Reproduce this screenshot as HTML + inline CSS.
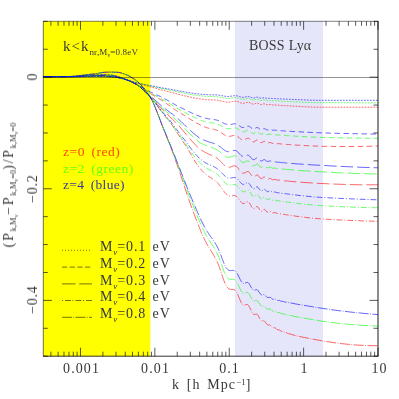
<!DOCTYPE html><html><head><meta charset="utf-8"><title>plot</title><style>
html,body{margin:0;padding:0;background:#fff;}
body{width:399px;height:399px;position:relative;overflow:hidden;font-family:"Liberation Serif",serif;color:#383838;}
.t{position:absolute;white-space:nowrap;line-height:1;will-change:transform;}
.xt{font-size:14px;transform:translateX(-50%);top:362px;letter-spacing:1.1px;text-indent:1.1px;}
.yt{font-size:14px;transform:translate(-50%,-50%) rotate(-90deg);left:32.8px;letter-spacing:0.8px;text-indent:0.8px;}
.leg{font-size:14px;left:100px;letter-spacing:0.85px;}
.leg sub,.yl sub,.kk sub{font-size:9px;vertical-align:baseline;position:relative;top:3px;letter-spacing:0;}
.kk sub{top:4px;letter-spacing:0.15px}
.yl sub{font-size:8.5px;}
.leg sub{top:4px;font-style:italic;}
.z{font-size:13.5px;left:62.5px;word-spacing:2.5px;}
</style></head><body>
<svg width="399" height="399" viewBox="0 0 399 399" style="position:absolute;left:0;top:0">
<defs><clipPath id="cp"><rect x="43.3" y="21.3" width="334.7" height="334.9"/></clipPath></defs>
<rect x="0" y="0" width="399" height="399" fill="#fff"/>
<rect x="43.3" y="21.3" width="107.0" height="334.9" fill="#ffff00"/>
<rect x="235" y="21.3" width="88" height="334.9" fill="#e6e6fa"/>
<g fill="none" stroke-width="0.6" clip-path="url(#cp)">
<path d="M43.3 76.7 L44.8 76.7 L46.3 76.7 L47.8 76.7 L49.3 76.7 L50.8 76.7 L52.3 76.7 L53.8 76.7 L55.3 76.7 L56.8 76.7 L58.3 76.7 L59.8 76.7 L61.3 76.7 L62.8 76.7 L64.3 76.7 L65.8 76.7 L67.3 76.7 L68.8 76.7 L70.3 76.7 L71.8 76.7 L73.3 76.7 L74.8 76.7 L76.3 76.7 L77.8 76.7 L79.3 76.7 L80.8 76.6 L82.3 76.6 L83.8 76.6 L85.3 76.6 L86.8 76.5 L88.3 76.5 L89.8 76.5 L91.3 76.5 L92.8 76.5 L94.3 76.5 L95.8 76.4 L97.3 76.4 L98.8 76.4 L100.3 76.5 L101.8 76.5 L103.3 76.5 L104.8 76.5 L106.3 76.6 L107.8 76.6 L109.3 76.8 L110.8 76.9 L112.3 77.0 L113.8 77.1 L115.3 77.3 L116.8 77.5 L118.3 77.7 L119.8 78.0 L121.3 78.3 L122.8 78.7 L124.3 79.0 L125.8 79.5 L127.3 79.9 L128.8 80.4 L130.3 80.9 L131.8 81.4 L133.3 81.9 L134.8 82.4 L136.3 82.9 L137.8 83.3 L139.3 83.7 L140.8 84.2 L142.3 84.6 L143.8 85.1 L145.3 85.5 L146.8 85.9 L148.3 86.3 L149.8 86.7 L151.3 87.1 L152.8 87.5 L154.3 87.9 L155.8 88.3 L157.3 88.8 L158.8 89.2 L160.3 89.6 L161.8 90.0 L163.3 90.4 L164.8 90.7 L166.3 91.1 L167.8 91.5 L169.3 91.9 L170.8 92.3 L172.3 92.7 L173.8 93.1 L175.3 93.5 L176.8 93.9 L178.3 94.3 L179.8 94.6 L181.3 95.0 L182.8 95.4 L184.3 95.8 L185.8 96.1 L187.3 96.5 L188.8 96.8 L190.3 97.1 L191.8 97.5 L193.3 97.8 L194.8 98.0 L196.3 98.3 L197.8 98.5 L199.3 98.8 L200.0 98.9 L200.5 98.9 L201.0 99.0 L201.5 99.1 L202.0 99.1 L202.5 99.2 L203.0 99.2 L203.5 99.3 L204.0 99.4 L204.5 99.4 L205.0 99.5 L205.5 99.5 L206.0 99.6 L206.5 99.6 L207.0 99.6 L207.5 99.7 L208.0 99.7 L208.5 99.7 L209.0 99.8 L209.5 99.8 L210.0 99.8 L210.5 99.8 L211.0 99.8 L211.5 99.8 L212.0 99.9 L212.5 99.9 L213.0 99.9 L213.5 99.9 L214.0 99.9 L214.5 100.0 L215.0 100.0 L215.5 100.0 L216.0 100.1 L216.5 100.1 L217.0 100.2 L217.5 100.2 L218.0 100.3 L218.5 100.4 L219.0 100.5 L219.5 100.6 L220.0 100.7 L220.5 100.8 L221.0 100.9 L221.5 101.0 L222.0 101.1 L222.5 101.3 L223.0 101.4 L223.5 101.5 L224.0 101.7 L224.5 101.8 L225.0 101.9 L225.5 102.0 L226.0 102.0 L226.5 102.1 L227.0 102.1 L227.5 102.2 L228.0 102.2 L228.5 102.1 L229.0 102.1 L229.5 102.1 L230.0 102.0 L230.5 101.9 L231.0 101.8 L231.5 101.7 L232.0 101.6 L232.5 101.5 L233.0 101.4 L233.5 101.3 L234.0 101.3 L234.5 101.2 L235.0 101.2 L235.5 101.2 L236.0 101.3 L236.5 101.3 L237.0 101.4 L237.5 101.6 L238.0 101.8 L238.5 101.9 L239.0 102.2 L239.5 102.4 L240.0 102.6 L240.5 102.8 L241.0 103.0 L241.5 103.1 L242.0 103.2 L242.5 103.3 L243.0 103.3 L243.5 103.3 L244.0 103.2 L244.5 103.1 L245.0 103.0 L245.5 102.8 L246.0 102.7 L246.5 102.5 L247.0 102.4 L247.5 102.3 L248.0 102.3 L248.5 102.3 L249.0 102.4 L249.5 102.6 L250.0 102.8 L250.5 103.0 L251.0 103.3 L251.5 103.6 L252.0 103.8 L252.5 104.0 L253.0 104.1 L253.5 104.1 L254.0 104.1 L254.5 103.9 L255.0 103.7 L255.5 103.5 L256.0 103.3 L256.5 103.2 L257.0 103.1 L257.5 103.1 L258.0 103.3 L258.5 103.5 L259.0 103.7 L259.5 104.0 L260.0 104.2 L260.5 104.4 L261.0 104.5 L261.5 104.5 L262.0 104.4 L262.5 104.3 L263.0 104.1 L263.5 103.9 L264.0 103.8 L264.5 103.9 L265.0 104.0 L265.5 104.1 L266.0 104.4 L266.5 104.6 L267.0 104.7 L267.5 104.8 L268.0 104.7 L268.5 104.7 L269.0 104.6 L269.5 104.5 L270.0 104.4 L270.5 104.5 L271.0 104.6 L271.5 104.7 L272.0 104.9 L272.5 105.0 L273.0 105.0 L273.5 105.0 L274.0 104.9 L274.5 104.9 L275.0 104.9 L275.5 104.9 L276.0 105.0 L276.5 105.1 L277.0 105.2 L277.5 105.2 L278.0 105.2 L278.5 105.2 L279.0 105.2 L279.5 105.2 L280.0 105.3 L280.5 105.4 L281.0 105.4 L281.5 105.5 L282.0 105.5 L282.5 105.5 L283.0 105.5 L283.5 105.5 L284.0 105.6 L284.5 105.6 L285.0 105.6 L285.5 105.7 L286.0 105.7 L286.5 105.7 L287.0 105.7 L287.5 105.8 L288.0 105.8 L288.5 105.8 L289.0 105.9 L289.5 105.9 L290.0 105.9 L293.0 106.1 L296.0 106.3 L299.0 106.4 L302.0 106.6 L305.0 106.8 L308.0 106.9 L311.0 107.0 L314.0 107.1 L317.0 107.2 L320.0 107.2 L323.0 107.2 L326.0 107.2 L329.0 107.2 L332.0 107.2 L335.0 107.2 L338.0 107.2 L341.0 107.2 L344.0 107.2 L347.0 107.2 L350.0 107.2 L353.0 107.2 L356.0 107.2 L359.0 107.2 L362.0 107.2 L365.0 107.2 L368.0 107.2 L371.0 107.2 L374.0 107.2 L377.0 107.2 L378.0 107.2" stroke="#ff0000" stroke-dasharray="1.8 1.2" stroke-dashoffset="0.5"/>
<path d="M43.3 76.7 L44.8 76.7 L46.3 76.7 L47.8 76.7 L49.3 76.7 L50.8 76.7 L52.3 76.7 L53.8 76.7 L55.3 76.7 L56.8 76.7 L58.3 76.7 L59.8 76.7 L61.3 76.7 L62.8 76.7 L64.3 76.7 L65.8 76.7 L67.3 76.7 L68.8 76.7 L70.3 76.7 L71.8 76.7 L73.3 76.7 L74.8 76.7 L76.3 76.6 L77.8 76.6 L79.3 76.6 L80.8 76.5 L82.3 76.4 L83.8 76.4 L85.3 76.3 L86.8 76.2 L88.3 76.2 L89.8 76.2 L91.3 76.1 L92.8 76.1 L94.3 76.1 L95.8 76.1 L97.3 76.1 L98.8 76.1 L100.3 76.1 L101.8 76.1 L103.3 76.1 L104.8 76.2 L106.3 76.3 L107.8 76.4 L109.3 76.5 L110.8 76.6 L112.3 76.7 L113.8 76.9 L115.3 77.1 L116.8 77.3 L118.3 77.6 L119.8 77.9 L121.3 78.3 L122.8 78.7 L124.3 79.1 L125.8 79.6 L127.3 80.1 L128.8 80.6 L130.3 81.2 L131.8 81.9 L133.3 82.7 L134.8 83.5 L136.3 84.2 L137.8 85.1 L139.3 85.9 L140.8 86.8 L142.3 87.8 L143.8 88.8 L145.3 89.8 L146.8 90.9 L148.3 92.0 L149.8 93.1 L151.3 94.1 L152.8 95.1 L154.3 96.0 L155.8 96.8 L157.3 97.7 L158.8 98.5 L160.3 99.5 L161.8 100.4 L163.3 101.4 L164.8 102.4 L166.3 103.4 L167.8 104.5 L169.3 105.5 L170.8 106.6 L172.3 107.7 L173.8 108.8 L175.3 109.9 L176.8 110.9 L178.3 111.9 L179.8 112.8 L181.3 113.7 L182.8 114.5 L184.3 115.4 L185.8 116.4 L187.3 117.3 L188.8 118.3 L190.3 119.3 L191.8 120.2 L193.3 121.1 L194.8 121.9 L196.3 122.8 L197.8 123.6 L199.3 124.4 L200.0 124.8 L200.5 125.0 L201.0 125.3 L201.5 125.5 L202.0 125.8 L202.5 126.0 L203.0 126.2 L203.5 126.4 L204.0 126.6 L204.5 126.8 L205.0 127.0 L205.5 127.2 L206.0 127.4 L206.5 127.6 L207.0 127.7 L207.5 127.9 L208.0 128.0 L208.5 128.2 L209.0 128.3 L209.5 128.4 L210.0 128.5 L210.5 128.6 L211.0 128.7 L211.5 128.8 L212.0 128.9 L212.5 129.0 L213.0 129.1 L213.5 129.2 L214.0 129.3 L214.5 129.5 L215.0 129.6 L215.5 129.8 L216.0 129.9 L216.5 130.1 L217.0 130.3 L217.5 130.5 L218.0 130.8 L218.5 131.0 L219.0 131.3 L219.5 131.6 L220.0 131.9 L220.5 132.2 L221.0 132.5 L221.5 132.9 L222.0 133.2 L222.5 133.6 L223.0 133.9 L223.5 134.3 L224.0 134.6 L224.5 134.9 L225.0 135.2 L225.5 135.5 L226.0 135.7 L226.5 135.9 L227.0 136.1 L227.5 136.2 L228.0 136.3 L228.5 136.3 L229.0 136.4 L229.5 136.3 L230.0 136.3 L230.5 136.2 L231.0 136.1 L231.5 136.0 L232.0 135.8 L232.5 135.7 L233.0 135.6 L233.5 135.5 L234.0 135.4 L234.5 135.4 L235.0 135.4 L235.5 135.5 L236.0 135.6 L236.5 135.8 L237.0 136.0 L237.5 136.3 L238.0 136.7 L238.5 137.1 L239.0 137.5 L239.5 138.0 L240.0 138.4 L240.5 138.8 L241.0 139.2 L241.5 139.6 L242.0 139.8 L242.5 140.0 L243.0 140.1 L243.5 140.0 L244.0 139.9 L244.5 139.7 L245.0 139.5 L245.5 139.2 L246.0 138.9 L246.5 138.6 L247.0 138.4 L247.5 138.3 L248.0 138.2 L248.5 138.3 L249.0 138.5 L249.5 138.8 L250.0 139.3 L250.5 139.8 L251.0 140.3 L251.5 140.9 L252.0 141.3 L252.5 141.7 L253.0 141.9 L253.5 141.9 L254.0 141.8 L254.5 141.6 L255.0 141.2 L255.5 140.8 L256.0 140.5 L256.5 140.2 L257.0 140.0 L257.5 140.1 L258.0 140.3 L258.5 140.7 L259.0 141.2 L259.5 141.7 L260.0 142.2 L260.5 142.6 L261.0 142.8 L261.5 142.7 L262.0 142.5 L262.5 142.2 L263.0 141.9 L263.5 141.6 L264.0 141.4 L264.5 141.4 L265.0 141.6 L265.5 142.0 L266.0 142.4 L266.5 142.8 L267.0 143.0 L267.5 143.1 L268.0 143.1 L268.5 142.9 L269.0 142.7 L269.5 142.5 L270.0 142.5 L270.5 142.5 L271.0 142.7 L271.5 143.0 L272.0 143.2 L272.5 143.4 L273.0 143.4 L273.5 143.4 L274.0 143.3 L274.5 143.2 L275.0 143.2 L275.5 143.3 L276.0 143.4 L276.5 143.6 L277.0 143.7 L277.5 143.7 L278.0 143.7 L278.5 143.7 L279.0 143.7 L279.5 143.7 L280.0 143.8 L280.5 143.9 L281.0 144.0 L281.5 144.0 L282.0 144.0 L282.5 144.0 L283.0 144.1 L283.5 144.1 L284.0 144.2 L284.5 144.3 L285.0 144.3 L285.5 144.3 L286.0 144.3 L286.5 144.4 L287.0 144.4 L287.5 144.5 L288.0 144.5 L288.5 144.5 L289.0 144.6 L289.5 144.6 L290.0 144.6 L293.0 144.9 L296.0 145.1 L299.0 145.2 L302.0 145.4 L305.0 145.6 L308.0 145.7 L311.0 145.9 L314.0 146.0 L317.0 146.1 L320.0 146.2 L323.0 146.3 L326.0 146.3 L329.0 146.4 L332.0 146.4 L335.0 146.5 L338.0 146.5 L341.0 146.5 L344.0 146.5 L347.0 146.5 L350.0 146.5 L353.0 146.5 L356.0 146.5 L359.0 146.4 L362.0 146.4 L365.0 146.3 L368.0 146.3 L371.0 146.2 L374.0 146.1 L377.0 146.0 L378.0 146.0" stroke="#ff0000" stroke-dasharray="5.5 3.5" stroke-dashoffset="5.5"/>
<path d="M43.3 76.7 L44.8 76.7 L46.3 76.7 L47.8 76.7 L49.3 76.7 L50.8 76.7 L52.3 76.7 L53.8 76.7 L55.3 76.7 L56.8 76.7 L58.3 76.7 L59.8 76.7 L61.3 76.7 L62.8 76.7 L64.3 76.7 L65.8 76.7 L67.3 76.7 L68.8 76.7 L70.3 76.6 L71.8 76.6 L73.3 76.6 L74.8 76.5 L76.3 76.4 L77.8 76.4 L79.3 76.3 L80.8 76.2 L82.3 76.1 L83.8 76.0 L85.3 75.9 L86.8 75.9 L88.3 75.8 L89.8 75.7 L91.3 75.7 L92.8 75.6 L94.3 75.6 L95.8 75.5 L97.3 75.5 L98.8 75.5 L100.3 75.5 L101.8 75.5 L103.3 75.5 L104.8 75.5 L106.3 75.6 L107.8 75.7 L109.3 75.8 L110.8 76.0 L112.3 76.2 L113.8 76.4 L115.3 76.7 L116.8 76.9 L118.3 77.3 L119.8 77.7 L121.3 78.1 L122.8 78.6 L124.3 79.1 L125.8 79.6 L127.3 80.1 L128.8 80.7 L130.3 81.3 L131.8 82.0 L133.3 82.8 L134.8 83.6 L136.3 84.4 L137.8 85.4 L139.3 86.5 L140.8 87.7 L142.3 89.1 L143.8 90.6 L145.3 92.0 L146.8 93.4 L148.3 94.8 L149.8 96.2 L151.3 97.7 L152.8 99.3 L154.3 101.0 L155.8 102.7 L157.3 104.3 L158.8 105.9 L160.3 107.5 L161.8 109.0 L163.3 110.5 L164.8 111.9 L166.3 113.4 L167.8 114.8 L169.3 116.2 L170.8 117.6 L172.3 119.1 L173.8 120.5 L175.3 122.1 L176.8 123.6 L178.3 125.2 L179.8 126.9 L181.3 128.6 L182.8 130.3 L184.3 132.1 L185.8 134.0 L187.3 135.8 L188.8 137.6 L190.3 139.3 L191.8 141.0 L193.3 142.6 L194.8 144.2 L196.3 145.7 L197.8 147.3 L199.3 148.7 L200.0 149.2 L200.5 149.6 L201.0 149.9 L201.5 150.3 L202.0 150.6 L202.5 150.9 L203.0 151.2 L203.5 151.5 L204.0 151.7 L204.5 152.0 L205.0 152.2 L205.5 152.5 L206.0 152.7 L206.5 153.0 L207.0 153.2 L207.5 153.5 L208.0 153.7 L208.5 154.0 L209.0 154.2 L209.5 154.5 L210.0 154.7 L210.5 154.9 L211.0 155.1 L211.5 155.3 L212.0 155.6 L212.5 155.8 L213.0 156.0 L213.5 156.2 L214.0 156.5 L214.5 156.7 L215.0 157.0 L215.5 157.3 L216.0 157.6 L216.5 157.9 L217.0 158.3 L217.5 158.6 L218.0 159.0 L218.5 159.4 L219.0 159.9 L219.5 160.3 L220.0 160.8 L220.5 161.3 L221.0 161.8 L221.5 162.3 L222.0 162.8 L222.5 163.4 L223.0 163.9 L223.5 164.4 L224.0 164.9 L224.5 165.3 L225.0 165.7 L225.5 166.1 L226.0 166.4 L226.5 166.7 L227.0 166.9 L227.5 167.1 L228.0 167.2 L228.5 167.3 L229.0 167.2 L229.5 167.2 L230.0 167.1 L230.5 167.0 L231.0 166.8 L231.5 166.6 L232.0 166.4 L232.5 166.2 L233.0 166.1 L233.5 165.9 L234.0 165.8 L234.5 165.8 L235.0 165.9 L235.5 166.0 L236.0 166.2 L236.5 166.5 L237.0 166.9 L237.5 167.4 L238.0 167.9 L238.5 168.6 L239.0 169.2 L239.5 169.9 L240.0 170.6 L240.5 171.2 L241.0 171.8 L241.5 172.3 L242.0 172.7 L242.5 173.0 L243.0 173.2 L243.5 173.2 L244.0 173.1 L244.5 173.0 L245.0 172.7 L245.5 172.4 L246.0 172.1 L246.5 171.8 L247.0 171.6 L247.5 171.5 L248.0 171.5 L248.5 171.7 L249.0 172.0 L249.5 172.5 L250.0 173.2 L250.5 173.9 L251.0 174.7 L251.5 175.4 L252.0 176.1 L252.5 176.6 L253.0 176.9 L253.5 177.0 L254.0 177.0 L254.5 176.7 L255.0 176.3 L255.5 175.8 L256.0 175.4 L256.5 175.1 L257.0 174.9 L257.5 175.0 L258.0 175.4 L258.5 175.9 L259.0 176.6 L259.5 177.3 L260.0 177.9 L260.5 178.4 L261.0 178.7 L261.5 178.6 L262.0 178.4 L262.5 178.0 L263.0 177.6 L263.5 177.2 L264.0 177.0 L264.5 177.0 L265.0 177.3 L265.5 177.8 L266.0 178.3 L266.5 178.8 L267.0 179.1 L267.5 179.3 L268.0 179.2 L268.5 179.0 L269.0 178.7 L269.5 178.5 L270.0 178.4 L270.5 178.5 L271.0 178.8 L271.5 179.1 L272.0 179.4 L272.5 179.7 L273.0 179.7 L273.5 179.6 L274.0 179.5 L274.5 179.4 L275.0 179.4 L275.5 179.5 L276.0 179.7 L276.5 179.9 L277.0 180.1 L277.5 180.1 L278.0 180.1 L278.5 180.1 L279.0 180.0 L279.5 180.1 L280.0 180.2 L280.5 180.3 L281.0 180.4 L281.5 180.5 L282.0 180.5 L282.5 180.5 L283.0 180.5 L283.5 180.6 L284.0 180.7 L284.5 180.8 L285.0 180.8 L285.5 180.9 L286.0 180.9 L286.5 180.9 L287.0 181.0 L287.5 181.1 L288.0 181.1 L288.5 181.2 L289.0 181.2 L289.5 181.2 L290.0 181.3 L293.0 181.6 L296.0 181.8 L299.0 182.1 L302.0 182.3 L305.0 182.5 L308.0 182.7 L311.0 182.9 L314.0 183.1 L317.0 183.3 L320.0 183.4 L323.0 183.6 L326.0 183.7 L329.0 183.9 L332.0 184.0 L335.0 184.1 L338.0 184.2 L341.0 184.3 L344.0 184.4 L347.0 184.5 L350.0 184.6 L353.0 184.7 L356.0 184.7 L359.0 184.8 L362.0 184.8 L365.0 184.8 L368.0 184.8 L371.0 184.8 L374.0 184.8 L377.0 184.8 L378.0 184.8" stroke="#ff0000" stroke-dasharray="12.5 4" stroke-dashoffset="11.0"/>
<path d="M43.3 76.7 L44.8 76.7 L46.3 76.7 L47.8 76.7 L49.3 76.7 L50.8 76.7 L52.3 76.7 L53.8 76.7 L55.3 76.7 L56.8 76.7 L58.3 76.7 L59.8 76.7 L61.3 76.7 L62.8 76.7 L64.3 76.7 L65.8 76.6 L67.3 76.6 L68.8 76.6 L70.3 76.5 L71.8 76.5 L73.3 76.4 L74.8 76.4 L76.3 76.3 L77.8 76.2 L79.3 76.1 L80.8 76.0 L82.3 75.9 L83.8 75.7 L85.3 75.6 L86.8 75.5 L88.3 75.4 L89.8 75.3 L91.3 75.2 L92.8 75.1 L94.3 75.0 L95.8 74.9 L97.3 74.8 L98.8 74.8 L100.3 74.7 L101.8 74.7 L103.3 74.7 L104.8 74.7 L106.3 74.8 L107.8 74.8 L109.3 74.9 L110.8 75.0 L112.3 75.2 L113.8 75.5 L115.3 75.8 L116.8 76.2 L118.3 76.6 L119.8 77.1 L121.3 77.7 L122.8 78.2 L124.3 78.8 L125.8 79.4 L127.3 80.0 L128.8 80.7 L130.3 81.3 L131.8 82.0 L133.3 82.8 L134.8 83.6 L136.3 84.4 L137.8 85.4 L139.3 86.4 L140.8 87.6 L142.3 89.0 L143.8 90.6 L145.3 92.1 L146.8 93.6 L148.3 95.2 L149.8 96.8 L151.3 98.5 L152.8 100.3 L154.3 102.1 L155.8 104.0 L157.3 106.0 L158.8 108.0 L160.3 110.0 L161.8 112.0 L163.3 113.9 L164.8 115.8 L166.3 117.7 L167.8 119.5 L169.3 121.4 L170.8 123.4 L172.3 125.5 L173.8 127.7 L175.3 130.0 L176.8 132.3 L178.3 134.6 L179.8 136.8 L181.3 139.0 L182.8 141.2 L184.3 143.5 L185.8 145.8 L187.3 148.2 L188.8 150.7 L190.3 153.2 L191.8 155.8 L193.3 158.5 L194.8 161.0 L196.3 163.2 L197.8 165.4 L199.3 167.4 L200.0 168.3 L200.5 168.9 L201.0 169.5 L201.5 170.1 L202.0 170.7 L202.5 171.2 L203.0 171.7 L203.5 172.2 L204.0 172.7 L204.5 173.2 L205.0 173.6 L205.5 174.1 L206.0 174.5 L206.5 174.9 L207.0 175.2 L207.5 175.6 L208.0 176.0 L208.5 176.3 L209.0 176.6 L209.5 177.0 L210.0 177.3 L210.5 177.6 L211.0 177.9 L211.5 178.2 L212.0 178.5 L212.5 178.8 L213.0 179.1 L213.5 179.5 L214.0 179.8 L214.5 180.2 L215.0 180.6 L215.5 181.0 L216.0 181.4 L216.5 181.9 L217.0 182.4 L217.5 182.9 L218.0 183.4 L218.5 184.0 L219.0 184.6 L219.5 185.2 L220.0 185.9 L220.5 186.5 L221.0 187.2 L221.5 187.9 L222.0 188.7 L222.5 189.4 L223.0 190.1 L223.5 190.8 L224.0 191.5 L224.5 192.1 L225.0 192.8 L225.5 193.3 L226.0 193.9 L226.5 194.3 L227.0 194.8 L227.5 195.1 L228.0 195.4 L228.5 195.7 L229.0 195.8 L229.5 195.9 L230.0 196.0 L230.5 196.0 L231.0 195.9 L231.5 195.9 L232.0 195.8 L232.5 195.7 L233.0 195.6 L233.5 195.5 L234.0 195.5 L234.5 195.5 L235.0 195.6 L235.5 195.8 L236.0 196.0 L236.5 196.4 L237.0 196.8 L237.5 197.3 L238.0 197.9 L238.5 198.6 L239.0 199.3 L239.5 200.0 L240.0 200.7 L240.5 201.4 L241.0 202.1 L241.5 202.6 L242.0 203.1 L242.5 203.4 L243.0 203.6 L243.5 203.6 L244.0 203.6 L244.5 203.3 L245.0 203.0 L245.5 202.7 L246.0 202.3 L246.5 202.0 L247.0 201.7 L247.5 201.6 L248.0 201.7 L248.5 201.9 L249.0 202.4 L249.5 203.0 L250.0 203.8 L250.5 204.8 L251.0 205.7 L251.5 206.7 L252.0 207.5 L252.5 208.2 L253.0 208.7 L253.5 208.8 L254.0 208.8 L254.5 208.5 L255.0 208.0 L255.5 207.5 L256.0 207.0 L256.5 206.7 L257.0 206.6 L257.5 206.7 L258.0 207.2 L258.5 207.8 L259.0 208.7 L259.5 209.6 L260.0 210.4 L260.5 211.0 L261.0 211.3 L261.5 211.3 L262.0 211.0 L262.5 210.6 L263.0 210.0 L263.5 209.6 L264.0 209.4 L264.5 209.4 L265.0 209.8 L265.5 210.3 L266.0 211.0 L266.5 211.6 L267.0 212.0 L267.5 212.2 L268.0 212.2 L268.5 211.9 L269.0 211.6 L269.5 211.4 L270.0 211.3 L270.5 211.4 L271.0 211.8 L271.5 212.2 L272.0 212.6 L272.5 212.8 L273.0 212.9 L273.5 212.9 L274.0 212.7 L274.5 212.6 L275.0 212.6 L275.5 212.7 L276.0 213.0 L276.5 213.2 L277.0 213.4 L277.5 213.5 L278.0 213.5 L278.5 213.5 L279.0 213.5 L279.5 213.5 L280.0 213.7 L280.5 213.9 L281.0 214.0 L281.5 214.1 L282.0 214.1 L282.5 214.1 L283.0 214.2 L283.5 214.3 L284.0 214.4 L284.5 214.5 L285.0 214.6 L285.5 214.7 L286.0 214.7 L286.5 214.8 L287.0 214.8 L287.5 214.9 L288.0 215.0 L288.5 215.1 L289.0 215.2 L289.5 215.2 L290.0 215.3 L293.0 215.7 L296.0 216.2 L299.0 216.6 L302.0 216.9 L305.0 217.3 L308.0 217.7 L311.0 218.0 L314.0 218.3 L317.0 218.5 L320.0 218.8 L323.0 219.0 L326.0 219.2 L329.0 219.4 L332.0 219.5 L335.0 219.7 L338.0 219.9 L341.0 220.0 L344.0 220.1 L347.0 220.3 L350.0 220.4 L353.0 220.5 L356.0 220.6 L359.0 220.7 L362.0 220.9 L365.0 221.0 L368.0 221.1 L371.0 221.1 L374.0 221.2 L377.0 221.3 L378.0 221.3" stroke="#ff0000" stroke-dasharray="1 2 5.8 2" stroke-dashoffset="7.0"/>
<path d="M43.3 76.7 L44.8 76.7 L46.3 76.7 L47.8 76.7 L49.3 76.7 L50.8 76.7 L52.3 76.7 L53.8 76.7 L55.3 76.7 L56.8 76.7 L58.3 76.7 L59.8 76.7 L61.3 76.7 L62.8 76.7 L64.3 76.7 L65.8 76.6 L67.3 76.6 L68.8 76.5 L70.3 76.5 L71.8 76.4 L73.3 76.3 L74.8 76.2 L76.3 76.0 L77.8 75.9 L79.3 75.7 L80.8 75.4 L82.3 75.2 L83.8 75.0 L85.3 74.8 L86.8 74.7 L88.3 74.5 L89.8 74.4 L91.3 74.2 L92.8 74.1 L94.3 73.9 L95.8 73.7 L97.3 73.5 L98.8 73.2 L100.3 72.9 L101.8 72.6 L103.3 72.4 L104.8 72.3 L106.3 72.2 L107.8 72.2 L109.3 72.1 L110.8 72.1 L112.3 72.1 L113.8 72.2 L115.3 72.2 L116.8 72.3 L118.3 72.3 L119.8 72.6 L121.3 73.0 L122.8 73.5 L124.3 74.0 L125.8 74.6 L127.3 75.2 L128.8 75.9 L130.3 76.7 L131.8 77.6 L133.3 78.5 L134.8 79.5 L136.3 80.6 L137.8 81.8 L139.3 83.2 L140.8 84.7 L142.3 86.5 L143.8 88.6 L145.3 90.7 L146.8 92.7 L148.3 94.6 L149.8 96.6 L151.3 99.1 L152.8 102.0 L154.3 105.4 L155.8 109.0 L157.3 112.8 L158.8 116.8 L160.3 120.8 L161.8 124.8 L163.3 128.6 L164.8 132.4 L166.3 136.1 L167.8 139.9 L169.3 143.7 L170.8 147.6 L172.3 151.5 L173.8 155.5 L175.3 159.7 L176.8 163.9 L178.3 168.3 L179.8 172.7 L181.3 177.1 L182.8 181.6 L184.3 186.1 L185.8 190.6 L187.3 195.0 L188.8 199.4 L190.3 203.7 L191.8 207.8 L193.3 211.9 L194.8 215.8 L196.3 219.8 L197.8 223.6 L199.3 227.4 L200.0 229.1 L200.5 230.4 L201.0 231.6 L201.5 232.7 L202.0 233.9 L202.5 235.0 L203.0 236.1 L203.5 237.2 L204.0 238.3 L204.5 239.3 L205.0 240.3 L205.5 241.3 L206.0 242.3 L206.5 243.2 L207.0 244.1 L207.5 245.0 L208.0 245.9 L208.5 246.8 L209.0 247.6 L209.5 248.4 L210.0 249.3 L210.5 250.1 L211.0 250.9 L211.5 251.6 L212.0 252.4 L212.5 253.2 L213.0 254.0 L213.5 254.9 L214.0 255.7 L214.5 256.6 L215.0 257.5 L215.5 258.4 L216.0 259.3 L216.5 260.4 L217.0 261.4 L217.5 262.5 L218.0 263.7 L218.5 264.9 L219.0 266.3 L219.5 267.6 L220.0 269.0 L220.5 270.5 L221.0 272.0 L221.5 273.5 L222.0 275.0 L222.5 276.5 L223.0 278.0 L223.5 279.4 L224.0 280.8 L224.5 282.1 L225.0 283.3 L225.5 284.4 L226.0 285.4 L226.5 286.3 L227.0 287.0 L227.5 287.7 L228.0 288.2 L228.5 288.6 L229.0 289.0 L229.5 289.2 L230.0 289.3 L230.5 289.4 L231.0 289.4 L231.5 289.4 L232.0 289.4 L232.5 289.4 L233.0 289.4 L233.5 289.5 L234.0 289.7 L234.5 289.9 L235.0 290.3 L235.5 290.8 L236.0 291.4 L236.5 292.1 L237.0 293.0 L237.5 294.0 L238.0 295.1 L238.5 296.3 L239.0 297.5 L239.5 298.7 L240.0 299.9 L240.5 301.0 L241.0 302.1 L241.5 303.0 L242.0 303.8 L242.5 304.4 L243.0 304.9 L243.5 305.1 L244.0 305.2 L244.5 305.2 L245.0 305.0 L245.5 304.9 L246.0 304.7 L246.5 304.5 L247.0 304.5 L247.5 304.6 L248.0 305.0 L248.5 305.5 L249.0 306.2 L249.5 307.1 L250.0 308.1 L250.5 309.2 L251.0 310.4 L251.5 311.5 L252.0 312.5 L252.5 313.3 L253.0 313.9 L253.5 314.3 L254.0 314.5 L254.5 314.5 L255.0 314.3 L255.5 314.2 L256.0 314.1 L256.5 314.1 L257.0 314.3 L257.5 314.7 L258.0 315.3 L258.5 316.2 L259.0 317.2 L259.5 318.2 L260.0 319.1 L260.5 319.9 L261.0 320.5 L261.5 320.8 L262.0 321.0 L262.5 320.9 L263.0 320.8 L263.5 320.8 L264.0 320.9 L264.5 321.2 L265.0 321.7 L265.5 322.4 L266.0 323.1 L266.5 323.9 L267.0 324.4 L267.5 324.8 L268.0 325.0 L268.5 325.0 L269.0 324.9 L269.5 324.9 L270.0 325.0 L270.5 325.3 L271.0 325.8 L271.5 326.4 L272.0 326.9 L272.5 327.4 L273.0 327.7 L273.5 327.8 L274.0 327.7 L274.5 327.7 L275.0 327.8 L275.5 328.1 L276.0 328.5 L276.5 329.0 L277.0 329.5 L277.5 329.7 L278.0 329.8 L278.5 329.8 L279.0 329.8 L279.5 330.0 L280.0 330.3 L280.5 330.7 L281.0 331.1 L281.5 331.3 L282.0 331.4 L282.5 331.4 L283.0 331.4 L283.5 331.7 L284.0 332.0 L284.5 332.3 L285.0 332.6 L285.5 332.6 L286.0 332.7 L286.5 332.7 L287.0 333.0 L287.5 333.3 L288.0 333.5 L288.5 333.7 L289.0 333.7 L289.5 333.8 L290.0 333.9 L293.0 334.9 L296.0 335.7 L299.0 336.4 L302.0 337.0 L305.0 337.6 L308.0 338.2 L311.0 338.8 L314.0 339.4 L317.0 339.9 L320.0 340.4 L323.0 341.0 L326.0 341.5 L329.0 341.9 L332.0 342.4 L335.0 342.8 L338.0 343.2 L341.0 343.6 L344.0 343.9 L347.0 344.2 L350.0 344.5 L353.0 344.7 L356.0 345.0 L359.0 345.2 L362.0 345.3 L365.0 345.5 L368.0 345.6 L371.0 345.7 L374.0 345.7 L377.0 345.7 L378.0 345.7" stroke="#ff0000" stroke-dasharray="10 1.5 0.8 1.5" stroke-dashoffset="9.0"/>
<path d="M43.3 76.7 L44.8 76.7 L46.3 76.7 L47.8 76.7 L49.3 76.7 L50.8 76.7 L52.3 76.7 L53.8 76.7 L55.3 76.7 L56.8 76.7 L58.3 76.7 L59.8 76.7 L61.3 76.7 L62.8 76.7 L64.3 76.7 L65.8 76.7 L67.3 76.7 L68.8 76.7 L70.3 76.7 L71.8 76.7 L73.3 76.7 L74.8 76.7 L76.3 76.7 L77.8 76.7 L79.3 76.7 L80.8 76.6 L82.3 76.6 L83.8 76.6 L85.3 76.6 L86.8 76.5 L88.3 76.5 L89.8 76.5 L91.3 76.5 L92.8 76.5 L94.3 76.5 L95.8 76.4 L97.3 76.4 L98.8 76.4 L100.3 76.5 L101.8 76.5 L103.3 76.5 L104.8 76.5 L106.3 76.6 L107.8 76.6 L109.3 76.8 L110.8 76.9 L112.3 77.0 L113.8 77.1 L115.3 77.3 L116.8 77.5 L118.3 77.7 L119.8 78.0 L121.3 78.3 L122.8 78.7 L124.3 79.0 L125.8 79.5 L127.3 79.9 L128.8 80.4 L130.3 80.9 L131.8 81.4 L133.3 81.9 L134.8 82.3 L136.3 82.7 L137.8 83.1 L139.3 83.5 L140.8 83.8 L142.3 84.2 L143.8 84.5 L145.3 84.8 L146.8 85.1 L148.3 85.4 L149.8 85.7 L151.3 86.0 L152.8 86.4 L154.3 86.7 L155.8 87.1 L157.3 87.4 L158.8 87.8 L160.3 88.1 L161.8 88.5 L163.3 88.8 L164.8 89.1 L166.3 89.4 L167.8 89.7 L169.3 90.0 L170.8 90.4 L172.3 90.7 L173.8 91.0 L175.3 91.3 L176.8 91.7 L178.3 92.0 L179.8 92.3 L181.3 92.6 L182.8 92.9 L184.3 93.2 L185.8 93.5 L187.3 93.8 L188.8 94.1 L190.3 94.4 L191.8 94.6 L193.3 94.9 L194.8 95.1 L196.3 95.3 L197.8 95.5 L199.3 95.7 L200.0 95.7 L200.5 95.8 L201.0 95.9 L201.5 95.9 L202.0 96.0 L202.5 96.0 L203.0 96.0 L203.5 96.1 L204.0 96.1 L204.5 96.2 L205.0 96.2 L205.5 96.3 L206.0 96.3 L206.5 96.3 L207.0 96.3 L207.5 96.4 L208.0 96.4 L208.5 96.4 L209.0 96.4 L209.5 96.4 L210.0 96.5 L210.5 96.5 L211.0 96.5 L211.5 96.5 L212.0 96.5 L212.5 96.5 L213.0 96.5 L213.5 96.5 L214.0 96.5 L214.5 96.6 L215.0 96.6 L215.5 96.6 L216.0 96.6 L216.5 96.7 L217.0 96.7 L217.5 96.8 L218.0 96.8 L218.5 96.9 L219.0 97.0 L219.5 97.0 L220.0 97.1 L220.5 97.2 L221.0 97.3 L221.5 97.4 L222.0 97.5 L222.5 97.6 L223.0 97.8 L223.5 97.9 L224.0 98.0 L224.5 98.1 L225.0 98.1 L225.5 98.2 L226.0 98.3 L226.5 98.3 L227.0 98.4 L227.5 98.4 L228.0 98.4 L228.5 98.4 L229.0 98.3 L229.5 98.3 L230.0 98.2 L230.5 98.1 L231.0 98.1 L231.5 98.0 L232.0 97.9 L232.5 97.8 L233.0 97.7 L233.5 97.7 L234.0 97.6 L234.5 97.6 L235.0 97.6 L235.5 97.6 L236.0 97.6 L236.5 97.7 L237.0 97.8 L237.5 97.9 L238.0 98.0 L238.5 98.2 L239.0 98.4 L239.5 98.5 L240.0 98.7 L240.5 98.9 L241.0 99.0 L241.5 99.2 L242.0 99.3 L242.5 99.3 L243.0 99.4 L243.5 99.3 L244.0 99.3 L244.5 99.2 L245.0 99.1 L245.5 98.9 L246.0 98.8 L246.5 98.7 L247.0 98.5 L247.5 98.5 L248.0 98.5 L248.5 98.5 L249.0 98.6 L249.5 98.7 L250.0 98.9 L250.5 99.1 L251.0 99.3 L251.5 99.6 L252.0 99.8 L252.5 99.9 L253.0 100.0 L253.5 100.0 L254.0 100.0 L254.5 99.9 L255.0 99.7 L255.5 99.5 L256.0 99.4 L256.5 99.2 L257.0 99.2 L257.5 99.2 L258.0 99.3 L258.5 99.5 L259.0 99.7 L259.5 99.9 L260.0 100.1 L260.5 100.3 L261.0 100.4 L261.5 100.4 L262.0 100.3 L262.5 100.1 L263.0 100.0 L263.5 99.9 L264.0 99.8 L264.5 99.8 L265.0 99.9 L265.5 100.1 L266.0 100.2 L266.5 100.4 L267.0 100.5 L267.5 100.6 L268.0 100.6 L268.5 100.5 L269.0 100.4 L269.5 100.3 L270.0 100.3 L270.5 100.3 L271.0 100.4 L271.5 100.6 L272.0 100.7 L272.5 100.7 L273.0 100.8 L273.5 100.8 L274.0 100.7 L274.5 100.7 L275.0 100.7 L275.5 100.7 L276.0 100.8 L276.5 100.9 L277.0 100.9 L277.5 101.0 L278.0 101.0 L278.5 101.0 L279.0 101.0 L279.5 101.0 L280.0 101.0 L280.5 101.1 L281.0 101.1 L281.5 101.2 L282.0 101.2 L282.5 101.2 L283.0 101.2 L283.5 101.2 L284.0 101.3 L284.5 101.3 L285.0 101.3 L285.5 101.4 L286.0 101.4 L286.5 101.4 L287.0 101.4 L287.5 101.4 L288.0 101.5 L288.5 101.5 L289.0 101.5 L289.5 101.5 L290.0 101.6 L293.0 101.7 L296.0 101.9 L299.0 102.0 L302.0 102.2 L305.0 102.3 L308.0 102.4 L311.0 102.5 L314.0 102.6 L317.0 102.7 L320.0 102.7 L323.0 102.7 L326.0 102.7 L329.0 102.7 L332.0 102.7 L335.0 102.7 L338.0 102.7 L341.0 102.7 L344.0 102.7 L347.0 102.7 L350.0 102.8 L353.0 102.8 L356.0 102.8 L359.0 102.8 L362.0 102.8 L365.0 102.8 L368.0 102.8 L371.0 102.8 L374.0 102.8 L377.0 102.8 L378.0 102.8" stroke="#00ff00" stroke-dasharray="1.8 1.2" stroke-dashoffset="1.5"/>
<path d="M43.3 76.7 L44.8 76.7 L46.3 76.7 L47.8 76.7 L49.3 76.7 L50.8 76.7 L52.3 76.7 L53.8 76.7 L55.3 76.7 L56.8 76.7 L58.3 76.7 L59.8 76.7 L61.3 76.7 L62.8 76.7 L64.3 76.7 L65.8 76.7 L67.3 76.7 L68.8 76.7 L70.3 76.7 L71.8 76.7 L73.3 76.7 L74.8 76.7 L76.3 76.6 L77.8 76.6 L79.3 76.6 L80.8 76.5 L82.3 76.4 L83.8 76.4 L85.3 76.3 L86.8 76.2 L88.3 76.2 L89.8 76.2 L91.3 76.1 L92.8 76.1 L94.3 76.1 L95.8 76.1 L97.3 76.1 L98.8 76.1 L100.3 76.1 L101.8 76.1 L103.3 76.1 L104.8 76.2 L106.3 76.3 L107.8 76.4 L109.3 76.5 L110.8 76.6 L112.3 76.7 L113.8 76.9 L115.3 77.1 L116.8 77.3 L118.3 77.6 L119.8 77.9 L121.3 78.3 L122.8 78.7 L124.3 79.1 L125.8 79.6 L127.3 80.1 L128.8 80.6 L130.3 81.2 L131.8 81.9 L133.3 82.7 L134.8 83.5 L136.3 84.2 L137.8 85.0 L139.3 85.8 L140.8 86.7 L142.3 87.6 L143.8 88.5 L145.3 89.5 L146.8 90.4 L148.3 91.4 L149.8 92.4 L151.3 93.3 L152.8 94.2 L154.3 95.0 L155.8 95.7 L157.3 96.5 L158.8 97.3 L160.3 98.1 L161.8 99.0 L163.3 99.8 L164.8 100.7 L166.3 101.6 L167.8 102.5 L169.3 103.4 L170.8 104.4 L172.3 105.3 L173.8 106.3 L175.3 107.3 L176.8 108.2 L178.3 109.0 L179.8 109.8 L181.3 110.5 L182.8 111.3 L184.3 112.1 L185.8 112.9 L187.3 113.7 L188.8 114.5 L190.3 115.3 L191.8 116.1 L193.3 116.9 L194.8 117.6 L196.3 118.3 L197.8 119.0 L199.3 119.6 L200.0 119.9 L200.5 120.1 L201.0 120.3 L201.5 120.5 L202.0 120.6 L202.5 120.8 L203.0 121.0 L203.5 121.2 L204.0 121.3 L204.5 121.5 L205.0 121.6 L205.5 121.8 L206.0 121.9 L206.5 122.0 L207.0 122.1 L207.5 122.3 L208.0 122.3 L208.5 122.4 L209.0 122.5 L209.5 122.6 L210.0 122.7 L210.5 122.7 L211.0 122.8 L211.5 122.8 L212.0 122.9 L212.5 123.0 L213.0 123.0 L213.5 123.1 L214.0 123.2 L214.5 123.3 L215.0 123.4 L215.5 123.5 L216.0 123.6 L216.5 123.8 L217.0 123.9 L217.5 124.1 L218.0 124.3 L218.5 124.5 L219.0 124.7 L219.5 124.9 L220.0 125.2 L220.5 125.4 L221.0 125.7 L221.5 126.0 L222.0 126.2 L222.5 126.5 L223.0 126.8 L223.5 127.1 L224.0 127.4 L224.5 127.6 L225.0 127.9 L225.5 128.1 L226.0 128.3 L226.5 128.4 L227.0 128.6 L227.5 128.7 L228.0 128.7 L228.5 128.8 L229.0 128.8 L229.5 128.7 L230.0 128.7 L230.5 128.6 L231.0 128.5 L231.5 128.4 L232.0 128.2 L232.5 128.1 L233.0 128.0 L233.5 127.9 L234.0 127.9 L234.5 127.8 L235.0 127.9 L235.5 127.9 L236.0 128.0 L236.5 128.2 L237.0 128.4 L237.5 128.7 L238.0 129.0 L238.5 129.3 L239.0 129.7 L239.5 130.1 L240.0 130.5 L240.5 130.8 L241.0 131.2 L241.5 131.4 L242.0 131.7 L242.5 131.8 L243.0 131.9 L243.5 131.9 L244.0 131.8 L244.5 131.6 L245.0 131.4 L245.5 131.1 L246.0 130.9 L246.5 130.6 L247.0 130.4 L247.5 130.3 L248.0 130.3 L248.5 130.3 L249.0 130.5 L249.5 130.8 L250.0 131.2 L250.5 131.6 L251.0 132.1 L251.5 132.6 L252.0 133.0 L252.5 133.3 L253.0 133.4 L253.5 133.5 L254.0 133.4 L254.5 133.2 L255.0 132.9 L255.5 132.5 L256.0 132.2 L256.5 132.0 L257.0 131.8 L257.5 131.9 L258.0 132.1 L258.5 132.4 L259.0 132.8 L259.5 133.3 L260.0 133.7 L260.5 134.0 L261.0 134.2 L261.5 134.2 L262.0 134.0 L262.5 133.7 L263.0 133.4 L263.5 133.2 L264.0 133.0 L264.5 133.0 L265.0 133.2 L265.5 133.5 L266.0 133.9 L266.5 134.2 L267.0 134.4 L267.5 134.5 L268.0 134.5 L268.5 134.3 L269.0 134.1 L269.5 134.0 L270.0 133.9 L270.5 134.0 L271.0 134.2 L271.5 134.4 L272.0 134.6 L272.5 134.7 L273.0 134.8 L273.5 134.7 L274.0 134.6 L274.5 134.6 L275.0 134.6 L275.5 134.6 L276.0 134.7 L276.5 134.9 L277.0 135.0 L277.5 135.0 L278.0 135.0 L278.5 135.0 L279.0 135.0 L279.5 135.0 L280.0 135.1 L280.5 135.2 L281.0 135.2 L281.5 135.3 L282.0 135.3 L282.5 135.3 L283.0 135.3 L283.5 135.4 L284.0 135.4 L284.5 135.5 L285.0 135.5 L285.5 135.5 L286.0 135.6 L286.5 135.6 L287.0 135.6 L287.5 135.7 L288.0 135.7 L288.5 135.7 L289.0 135.8 L289.5 135.8 L290.0 135.8 L293.0 136.0 L296.0 136.2 L299.0 136.4 L302.0 136.5 L305.0 136.7 L308.0 136.8 L311.0 137.0 L314.0 137.1 L317.0 137.2 L320.0 137.3 L323.0 137.4 L326.0 137.5 L329.0 137.6 L332.0 137.7 L335.0 137.7 L338.0 137.8 L341.0 137.9 L344.0 137.9 L347.0 138.0 L350.0 138.0 L353.0 138.1 L356.0 138.1 L359.0 138.1 L362.0 138.2 L365.0 138.2 L368.0 138.2 L371.0 138.3 L374.0 138.3 L377.0 138.3 L378.0 138.3" stroke="#00ff00" stroke-dasharray="5.5 3.5" stroke-dashoffset="3.0"/>
<path d="M43.3 76.7 L44.8 76.7 L46.3 76.7 L47.8 76.7 L49.3 76.7 L50.8 76.7 L52.3 76.7 L53.8 76.7 L55.3 76.7 L56.8 76.7 L58.3 76.7 L59.8 76.7 L61.3 76.7 L62.8 76.7 L64.3 76.7 L65.8 76.7 L67.3 76.7 L68.8 76.7 L70.3 76.6 L71.8 76.6 L73.3 76.6 L74.8 76.5 L76.3 76.4 L77.8 76.4 L79.3 76.3 L80.8 76.2 L82.3 76.1 L83.8 76.0 L85.3 75.9 L86.8 75.9 L88.3 75.8 L89.8 75.7 L91.3 75.7 L92.8 75.6 L94.3 75.6 L95.8 75.5 L97.3 75.5 L98.8 75.5 L100.3 75.5 L101.8 75.5 L103.3 75.5 L104.8 75.5 L106.3 75.6 L107.8 75.7 L109.3 75.8 L110.8 76.0 L112.3 76.2 L113.8 76.4 L115.3 76.7 L116.8 76.9 L118.3 77.3 L119.8 77.7 L121.3 78.1 L122.8 78.6 L124.3 79.1 L125.8 79.6 L127.3 80.1 L128.8 80.7 L130.3 81.3 L131.8 82.0 L133.3 82.8 L134.8 83.6 L136.3 84.4 L137.8 85.4 L139.3 86.5 L140.8 87.6 L142.3 89.0 L143.8 90.4 L145.3 91.7 L146.8 93.0 L148.3 94.3 L149.8 95.7 L151.3 97.1 L152.8 98.6 L154.3 100.1 L155.8 101.7 L157.3 103.3 L158.8 104.8 L160.3 106.2 L161.8 107.6 L163.3 108.9 L164.8 110.2 L166.3 111.5 L167.8 112.8 L169.3 114.1 L170.8 115.3 L172.3 116.5 L173.8 117.8 L175.3 119.2 L176.8 120.5 L178.3 121.9 L179.8 123.4 L181.3 124.8 L182.8 126.3 L184.3 127.9 L185.8 129.5 L187.3 131.2 L188.8 132.7 L190.3 134.2 L191.8 135.6 L193.3 137.0 L194.8 138.4 L196.3 139.7 L197.8 141.0 L199.3 142.2 L200.0 142.7 L200.5 143.0 L201.0 143.3 L201.5 143.5 L202.0 143.8 L202.5 144.0 L203.0 144.3 L203.5 144.5 L204.0 144.7 L204.5 144.9 L205.0 145.1 L205.5 145.3 L206.0 145.5 L206.5 145.7 L207.0 145.9 L207.5 146.1 L208.0 146.3 L208.5 146.5 L209.0 146.7 L209.5 146.8 L210.0 147.0 L210.5 147.2 L211.0 147.3 L211.5 147.5 L212.0 147.7 L212.5 147.9 L213.0 148.0 L213.5 148.2 L214.0 148.4 L214.5 148.6 L215.0 148.8 L215.5 149.0 L216.0 149.3 L216.5 149.5 L217.0 149.8 L217.5 150.1 L218.0 150.4 L218.5 150.8 L219.0 151.1 L219.5 151.5 L220.0 151.9 L220.5 152.3 L221.0 152.7 L221.5 153.2 L222.0 153.6 L222.5 154.0 L223.0 154.5 L223.5 154.9 L224.0 155.3 L224.5 155.7 L225.0 156.0 L225.5 156.4 L226.0 156.6 L226.5 156.9 L227.0 157.0 L227.5 157.2 L228.0 157.2 L228.5 157.3 L229.0 157.3 L229.5 157.2 L230.0 157.1 L230.5 157.0 L231.0 156.8 L231.5 156.6 L232.0 156.4 L232.5 156.3 L233.0 156.1 L233.5 156.0 L234.0 155.9 L234.5 155.9 L235.0 155.9 L235.5 156.0 L236.0 156.2 L236.5 156.5 L237.0 156.8 L237.5 157.3 L238.0 157.8 L238.5 158.3 L239.0 158.9 L239.5 159.5 L240.0 160.1 L240.5 160.7 L241.0 161.2 L241.5 161.7 L242.0 162.0 L242.5 162.3 L243.0 162.4 L243.5 162.5 L244.0 162.4 L244.5 162.2 L245.0 162.0 L245.5 161.8 L246.0 161.5 L246.5 161.2 L247.0 161.0 L247.5 160.9 L248.0 161.0 L248.5 161.1 L249.0 161.4 L249.5 161.9 L250.0 162.4 L250.5 163.1 L251.0 163.8 L251.5 164.4 L252.0 165.0 L252.5 165.5 L253.0 165.8 L253.5 165.9 L254.0 165.8 L254.5 165.5 L255.0 165.2 L255.5 164.8 L256.0 164.4 L256.5 164.1 L257.0 164.0 L257.5 164.1 L258.0 164.4 L258.5 164.9 L259.0 165.5 L259.5 166.1 L260.0 166.7 L260.5 167.1 L261.0 167.3 L261.5 167.3 L262.0 167.1 L262.5 166.7 L263.0 166.3 L263.5 166.0 L264.0 165.8 L264.5 165.9 L265.0 166.1 L265.5 166.5 L266.0 167.0 L266.5 167.4 L267.0 167.7 L267.5 167.9 L268.0 167.8 L268.5 167.6 L269.0 167.4 L269.5 167.2 L270.0 167.1 L270.5 167.2 L271.0 167.4 L271.5 167.7 L272.0 168.0 L272.5 168.2 L273.0 168.3 L273.5 168.2 L274.0 168.1 L274.5 168.0 L275.0 168.0 L275.5 168.1 L276.0 168.2 L276.5 168.4 L277.0 168.6 L277.5 168.6 L278.0 168.6 L278.5 168.6 L279.0 168.6 L279.5 168.6 L280.0 168.7 L280.5 168.8 L281.0 168.9 L281.5 169.0 L282.0 169.0 L282.5 169.0 L283.0 169.0 L283.5 169.1 L284.0 169.1 L284.5 169.2 L285.0 169.3 L285.5 169.3 L286.0 169.3 L286.5 169.4 L287.0 169.4 L287.5 169.5 L288.0 169.6 L288.5 169.6 L289.0 169.6 L289.5 169.6 L290.0 169.7 L293.0 170.0 L296.0 170.2 L299.0 170.4 L302.0 170.7 L305.0 170.9 L308.0 171.1 L311.0 171.2 L314.0 171.4 L317.0 171.6 L320.0 171.8 L323.0 171.9 L326.0 172.1 L329.0 172.3 L332.0 172.4 L335.0 172.6 L338.0 172.7 L341.0 172.9 L344.0 173.0 L347.0 173.1 L350.0 173.2 L353.0 173.3 L356.0 173.4 L359.0 173.5 L362.0 173.6 L365.0 173.7 L368.0 173.8 L371.0 173.9 L374.0 173.9 L377.0 174.0 L378.0 174.0" stroke="#00ff00" stroke-dasharray="12.5 4" stroke-dashoffset="5.0"/>
<path d="M43.3 76.7 L44.8 76.7 L46.3 76.7 L47.8 76.7 L49.3 76.7 L50.8 76.7 L52.3 76.7 L53.8 76.7 L55.3 76.7 L56.8 76.7 L58.3 76.7 L59.8 76.7 L61.3 76.7 L62.8 76.7 L64.3 76.7 L65.8 76.6 L67.3 76.6 L68.8 76.6 L70.3 76.5 L71.8 76.5 L73.3 76.4 L74.8 76.4 L76.3 76.3 L77.8 76.2 L79.3 76.1 L80.8 76.0 L82.3 75.9 L83.8 75.7 L85.3 75.6 L86.8 75.5 L88.3 75.4 L89.8 75.3 L91.3 75.2 L92.8 75.1 L94.3 75.0 L95.8 74.9 L97.3 74.8 L98.8 74.8 L100.3 74.7 L101.8 74.7 L103.3 74.7 L104.8 74.7 L106.3 74.8 L107.8 74.8 L109.3 74.9 L110.8 75.0 L112.3 75.2 L113.8 75.5 L115.3 75.8 L116.8 76.2 L118.3 76.6 L119.8 77.1 L121.3 77.7 L122.8 78.2 L124.3 78.8 L125.8 79.4 L127.3 80.0 L128.8 80.7 L130.3 81.3 L131.8 82.0 L133.3 82.8 L134.8 83.6 L136.3 84.4 L137.8 85.4 L139.3 86.4 L140.8 87.6 L142.3 89.0 L143.8 90.6 L145.3 92.1 L146.8 93.6 L148.3 95.2 L149.8 96.8 L151.3 98.5 L152.8 100.2 L154.3 102.1 L155.8 104.0 L157.3 105.9 L158.8 107.9 L160.3 109.9 L161.8 111.8 L163.3 113.7 L164.8 115.6 L166.3 117.4 L167.8 119.2 L169.3 121.0 L170.8 122.9 L172.3 125.0 L173.8 127.1 L175.3 129.3 L176.8 131.6 L178.3 133.7 L179.8 135.8 L181.3 137.9 L182.8 140.0 L184.3 142.1 L185.8 144.2 L187.3 146.4 L188.8 148.6 L190.3 150.8 L191.8 153.0 L193.3 155.1 L194.8 157.1 L196.3 158.9 L197.8 160.6 L199.3 162.2 L200.0 162.9 L200.5 163.4 L201.0 163.9 L201.5 164.3 L202.0 164.8 L202.5 165.2 L203.0 165.6 L203.5 166.0 L204.0 166.4 L204.5 166.8 L205.0 167.1 L205.5 167.5 L206.0 167.8 L206.5 168.1 L207.0 168.4 L207.5 168.7 L208.0 169.0 L208.5 169.3 L209.0 169.5 L209.5 169.8 L210.0 170.0 L210.5 170.3 L211.0 170.5 L211.5 170.8 L212.0 171.0 L212.5 171.3 L213.0 171.5 L213.5 171.8 L214.0 172.1 L214.5 172.4 L215.0 172.7 L215.5 173.0 L216.0 173.3 L216.5 173.7 L217.0 174.1 L217.5 174.5 L218.0 175.0 L218.5 175.4 L219.0 175.9 L219.5 176.4 L220.0 177.0 L220.5 177.5 L221.0 178.1 L221.5 178.7 L222.0 179.3 L222.5 179.9 L223.0 180.5 L223.5 181.1 L224.0 181.7 L224.5 182.2 L225.0 182.7 L225.5 183.2 L226.0 183.6 L226.5 184.0 L227.0 184.3 L227.5 184.6 L228.0 184.8 L228.5 185.0 L229.0 185.1 L229.5 185.1 L230.0 185.1 L230.5 185.1 L231.0 185.0 L231.5 184.9 L232.0 184.8 L232.5 184.7 L233.0 184.6 L233.5 184.5 L234.0 184.5 L234.5 184.5 L235.0 184.6 L235.5 184.8 L236.0 185.0 L236.5 185.3 L237.0 185.7 L237.5 186.1 L238.0 186.7 L238.5 187.3 L239.0 187.9 L239.5 188.6 L240.0 189.2 L240.5 189.9 L241.0 190.4 L241.5 190.9 L242.0 191.4 L242.5 191.7 L243.0 191.8 L243.5 191.9 L244.0 191.8 L244.5 191.6 L245.0 191.3 L245.5 191.0 L246.0 190.7 L246.5 190.4 L247.0 190.2 L247.5 190.1 L248.0 190.1 L248.5 190.3 L249.0 190.7 L249.5 191.3 L250.0 192.1 L250.5 192.9 L251.0 193.8 L251.5 194.6 L252.0 195.4 L252.5 196.0 L253.0 196.4 L253.5 196.6 L254.0 196.5 L254.5 196.3 L255.0 195.9 L255.5 195.4 L256.0 195.0 L256.5 194.6 L257.0 194.5 L257.5 194.7 L258.0 195.1 L258.5 195.7 L259.0 196.4 L259.5 197.2 L260.0 198.0 L260.5 198.5 L261.0 198.8 L261.5 198.8 L262.0 198.6 L262.5 198.1 L263.0 197.7 L263.5 197.3 L264.0 197.1 L264.5 197.1 L265.0 197.4 L265.5 197.9 L266.0 198.5 L266.5 199.1 L267.0 199.5 L267.5 199.7 L268.0 199.6 L268.5 199.4 L269.0 199.1 L269.5 198.9 L270.0 198.8 L270.5 198.9 L271.0 199.2 L271.5 199.6 L272.0 200.0 L272.5 200.2 L273.0 200.3 L273.5 200.2 L274.0 200.1 L274.5 200.0 L275.0 200.0 L275.5 200.1 L276.0 200.3 L276.5 200.6 L277.0 200.8 L277.5 200.9 L278.0 200.9 L278.5 200.8 L279.0 200.8 L279.5 200.9 L280.0 201.0 L280.5 201.1 L281.0 201.3 L281.5 201.4 L282.0 201.4 L282.5 201.4 L283.0 201.4 L283.5 201.5 L284.0 201.6 L284.5 201.7 L285.0 201.8 L285.5 201.9 L286.0 201.9 L286.5 201.9 L287.0 202.0 L287.5 202.1 L288.0 202.2 L288.5 202.3 L289.0 202.3 L289.5 202.4 L290.0 202.4 L293.0 202.8 L296.0 203.2 L299.0 203.6 L302.0 203.9 L305.0 204.2 L308.0 204.6 L311.0 204.8 L314.0 205.1 L317.0 205.4 L320.0 205.6 L323.0 205.8 L326.0 205.9 L329.0 206.1 L332.0 206.2 L335.0 206.4 L338.0 206.5 L341.0 206.6 L344.0 206.8 L347.0 206.9 L350.0 207.0 L353.0 207.1 L356.0 207.2 L359.0 207.3 L362.0 207.4 L365.0 207.5 L368.0 207.5 L371.0 207.6 L374.0 207.7 L377.0 207.7 L378.0 207.7" stroke="#00ff00" stroke-dasharray="1 2 5.8 2" stroke-dashoffset="3.5"/>
<path d="M43.3 76.7 L44.8 76.7 L46.3 76.7 L47.8 76.7 L49.3 76.7 L50.8 76.7 L52.3 76.7 L53.8 76.7 L55.3 76.7 L56.8 76.7 L58.3 76.7 L59.8 76.7 L61.3 76.7 L62.8 76.7 L64.3 76.7 L65.8 76.6 L67.3 76.6 L68.8 76.5 L70.3 76.5 L71.8 76.4 L73.3 76.3 L74.8 76.2 L76.3 76.0 L77.8 75.9 L79.3 75.7 L80.8 75.4 L82.3 75.2 L83.8 75.0 L85.3 74.8 L86.8 74.7 L88.3 74.5 L89.8 74.4 L91.3 74.2 L92.8 74.1 L94.3 73.9 L95.8 73.7 L97.3 73.5 L98.8 73.2 L100.3 72.9 L101.8 72.6 L103.3 72.4 L104.8 72.3 L106.3 72.2 L107.8 72.2 L109.3 72.1 L110.8 72.1 L112.3 72.1 L113.8 72.2 L115.3 72.2 L116.8 72.3 L118.3 72.3 L119.8 72.6 L121.3 73.0 L122.8 73.5 L124.3 74.0 L125.8 74.6 L127.3 75.2 L128.8 75.9 L130.3 76.7 L131.8 77.6 L133.3 78.5 L134.8 79.5 L136.3 80.6 L137.8 81.8 L139.3 83.2 L140.8 84.7 L142.3 86.5 L143.8 88.6 L145.3 90.7 L146.8 92.7 L148.3 94.5 L149.8 96.6 L151.3 99.0 L152.8 102.0 L154.3 105.3 L155.8 108.8 L157.3 112.6 L158.8 116.6 L160.3 120.5 L161.8 124.4 L163.3 128.3 L164.8 131.9 L166.3 135.6 L167.8 139.3 L169.3 143.0 L170.8 146.7 L172.3 150.5 L173.8 154.3 L175.3 158.2 L176.8 162.2 L178.3 166.2 L179.8 170.3 L181.3 174.3 L182.8 178.4 L184.3 182.5 L185.8 186.6 L187.3 190.6 L188.8 194.6 L190.3 198.6 L191.8 202.4 L193.3 206.2 L194.8 209.9 L196.3 213.7 L197.8 217.3 L199.3 220.9 L200.0 222.5 L200.5 223.7 L201.0 224.8 L201.5 225.9 L202.0 227.0 L202.5 228.1 L203.0 229.1 L203.5 230.2 L204.0 231.2 L204.5 232.1 L205.0 233.1 L205.5 234.0 L206.0 234.9 L206.5 235.8 L207.0 236.7 L207.5 237.6 L208.0 238.4 L208.5 239.2 L209.0 240.0 L209.5 240.8 L210.0 241.5 L210.5 242.3 L211.0 243.1 L211.5 243.8 L212.0 244.6 L212.5 245.3 L213.0 246.1 L213.5 246.8 L214.0 247.6 L214.5 248.4 L215.0 249.3 L215.5 250.1 L216.0 251.1 L216.5 252.0 L217.0 253.0 L217.5 254.0 L218.0 255.2 L218.5 256.3 L219.0 257.6 L219.5 258.9 L220.0 260.2 L220.5 261.6 L221.0 263.0 L221.5 264.4 L222.0 265.8 L222.5 267.3 L223.0 268.7 L223.5 270.0 L224.0 271.3 L224.5 272.6 L225.0 273.7 L225.5 274.7 L226.0 275.7 L226.5 276.5 L227.0 277.2 L227.5 277.8 L228.0 278.3 L228.5 278.7 L229.0 279.0 L229.5 279.2 L230.0 279.3 L230.5 279.3 L231.0 279.3 L231.5 279.3 L232.0 279.3 L232.5 279.2 L233.0 279.2 L233.5 279.3 L234.0 279.4 L234.5 279.6 L235.0 279.9 L235.5 280.4 L236.0 280.9 L236.5 281.6 L237.0 282.4 L237.5 283.3 L238.0 284.3 L238.5 285.4 L239.0 286.5 L239.5 287.6 L240.0 288.7 L240.5 289.7 L241.0 290.7 L241.5 291.5 L242.0 292.2 L242.5 292.8 L243.0 293.1 L243.5 293.3 L244.0 293.4 L244.5 293.3 L245.0 293.1 L245.5 292.9 L246.0 292.7 L246.5 292.5 L247.0 292.4 L247.5 292.5 L248.0 292.7 L248.5 293.2 L249.0 293.8 L249.5 294.6 L250.0 295.5 L250.5 296.5 L251.0 297.5 L251.5 298.5 L252.0 299.4 L252.5 300.1 L253.0 300.7 L253.5 301.0 L254.0 301.1 L254.5 301.0 L255.0 300.8 L255.5 300.6 L256.0 300.4 L256.5 300.4 L257.0 300.5 L257.5 300.9 L258.0 301.4 L258.5 302.1 L259.0 303.0 L259.5 303.9 L260.0 304.7 L260.5 305.4 L261.0 305.9 L261.5 306.1 L262.0 306.2 L262.5 306.1 L263.0 306.0 L263.5 305.9 L264.0 305.9 L264.5 306.1 L265.0 306.5 L265.5 307.1 L266.0 307.7 L266.5 308.4 L267.0 308.9 L267.5 309.2 L268.0 309.3 L268.5 309.2 L269.0 309.1 L269.5 309.0 L270.0 309.0 L270.5 309.2 L271.0 309.6 L271.5 310.1 L272.0 310.6 L272.5 311.0 L273.0 311.2 L273.5 311.2 L274.0 311.1 L274.5 311.0 L275.0 311.1 L275.5 311.3 L276.0 311.6 L276.5 312.0 L277.0 312.4 L277.5 312.6 L278.0 312.6 L278.5 312.5 L279.0 312.5 L279.5 312.6 L280.0 312.8 L280.5 313.2 L281.0 313.5 L281.5 313.6 L282.0 313.6 L282.5 313.6 L283.0 313.6 L283.5 313.8 L284.0 314.0 L284.5 314.3 L285.0 314.5 L285.5 314.5 L286.0 314.5 L286.5 314.5 L287.0 314.7 L287.5 314.9 L288.0 315.1 L288.5 315.2 L289.0 315.2 L289.5 315.2 L290.0 315.4 L293.0 316.0 L296.0 316.7 L299.0 317.2 L302.0 317.7 L305.0 318.2 L308.0 318.8 L311.0 319.3 L314.0 319.8 L317.0 320.3 L320.0 320.8 L323.0 321.3 L326.0 321.7 L329.0 322.1 L332.0 322.5 L335.0 322.9 L338.0 323.3 L341.0 323.6 L344.0 323.9 L347.0 324.2 L350.0 324.4 L353.0 324.7 L356.0 324.9 L359.0 325.1 L362.0 325.3 L365.0 325.5 L368.0 325.6 L371.0 325.8 L374.0 325.9 L377.0 326.0 L378.0 326.0" stroke="#00ff00" stroke-dasharray="10 1.5 0.8 1.5" stroke-dashoffset="4.5"/>
<path d="M43.3 76.7 L44.8 76.7 L46.3 76.7 L47.8 76.7 L49.3 76.7 L50.8 76.7 L52.3 76.7 L53.8 76.7 L55.3 76.7 L56.8 76.7 L58.3 76.7 L59.8 76.7 L61.3 76.7 L62.8 76.7 L64.3 76.7 L65.8 76.7 L67.3 76.7 L68.8 76.7 L70.3 76.7 L71.8 76.7 L73.3 76.7 L74.8 76.7 L76.3 76.7 L77.8 76.7 L79.3 76.7 L80.8 76.6 L82.3 76.6 L83.8 76.6 L85.3 76.6 L86.8 76.5 L88.3 76.5 L89.8 76.5 L91.3 76.5 L92.8 76.5 L94.3 76.5 L95.8 76.4 L97.3 76.4 L98.8 76.4 L100.3 76.5 L101.8 76.5 L103.3 76.5 L104.8 76.5 L106.3 76.6 L107.8 76.6 L109.3 76.8 L110.8 76.9 L112.3 77.0 L113.8 77.1 L115.3 77.3 L116.8 77.5 L118.3 77.7 L119.8 78.0 L121.3 78.3 L122.8 78.7 L124.3 79.0 L125.8 79.5 L127.3 79.9 L128.8 80.4 L130.3 80.9 L131.8 81.4 L133.3 81.9 L134.8 82.3 L136.3 82.7 L137.8 83.1 L139.3 83.4 L140.8 83.7 L142.3 84.1 L143.8 84.4 L145.3 84.7 L146.8 85.0 L148.3 85.2 L149.8 85.5 L151.3 85.8 L152.8 86.1 L154.3 86.4 L155.8 86.7 L157.3 87.0 L158.8 87.3 L160.3 87.6 L161.8 87.8 L163.3 88.1 L164.8 88.3 L166.3 88.6 L167.8 88.8 L169.3 89.1 L170.8 89.4 L172.3 89.7 L173.8 89.9 L175.3 90.2 L176.8 90.5 L178.3 90.8 L179.8 91.1 L181.3 91.3 L182.8 91.6 L184.3 91.9 L185.8 92.1 L187.3 92.4 L188.8 92.6 L190.3 92.9 L191.8 93.1 L193.3 93.3 L194.8 93.5 L196.3 93.7 L197.8 93.9 L199.3 94.0 L200.0 94.1 L200.5 94.2 L201.0 94.2 L201.5 94.3 L202.0 94.3 L202.5 94.3 L203.0 94.4 L203.5 94.4 L204.0 94.5 L204.5 94.5 L205.0 94.5 L205.5 94.6 L206.0 94.6 L206.5 94.6 L207.0 94.6 L207.5 94.7 L208.0 94.7 L208.5 94.7 L209.0 94.7 L209.5 94.7 L210.0 94.7 L210.5 94.8 L211.0 94.8 L211.5 94.8 L212.0 94.8 L212.5 94.8 L213.0 94.8 L213.5 94.8 L214.0 94.8 L214.5 94.8 L215.0 94.9 L215.5 94.9 L216.0 94.9 L216.5 94.9 L217.0 95.0 L217.5 95.0 L218.0 95.1 L218.5 95.1 L219.0 95.2 L219.5 95.3 L220.0 95.4 L220.5 95.4 L221.0 95.5 L221.5 95.6 L222.0 95.7 L222.5 95.8 L223.0 95.9 L223.5 96.0 L224.0 96.1 L224.5 96.2 L225.0 96.3 L225.5 96.3 L226.0 96.4 L226.5 96.4 L227.0 96.5 L227.5 96.5 L228.0 96.5 L228.5 96.5 L229.0 96.4 L229.5 96.4 L230.0 96.3 L230.5 96.3 L231.0 96.2 L231.5 96.1 L232.0 96.0 L232.5 96.0 L233.0 95.9 L233.5 95.8 L234.0 95.8 L234.5 95.7 L235.0 95.7 L235.5 95.7 L236.0 95.8 L236.5 95.8 L237.0 95.9 L237.5 96.0 L238.0 96.1 L238.5 96.3 L239.0 96.4 L239.5 96.6 L240.0 96.8 L240.5 96.9 L241.0 97.1 L241.5 97.2 L242.0 97.3 L242.5 97.3 L243.0 97.4 L243.5 97.3 L244.0 97.3 L244.5 97.2 L245.0 97.1 L245.5 97.0 L246.0 96.8 L246.5 96.7 L247.0 96.6 L247.5 96.6 L248.0 96.5 L248.5 96.6 L249.0 96.6 L249.5 96.8 L250.0 96.9 L250.5 97.1 L251.0 97.3 L251.5 97.5 L252.0 97.7 L252.5 97.9 L253.0 97.9 L253.5 97.9 L254.0 97.9 L254.5 97.8 L255.0 97.6 L255.5 97.5 L256.0 97.3 L256.5 97.2 L257.0 97.2 L257.5 97.2 L258.0 97.3 L258.5 97.4 L259.0 97.6 L259.5 97.8 L260.0 98.0 L260.5 98.2 L261.0 98.3 L261.5 98.2 L262.0 98.2 L262.5 98.0 L263.0 97.9 L263.5 97.8 L264.0 97.7 L264.5 97.7 L265.0 97.8 L265.5 98.0 L266.0 98.1 L266.5 98.3 L267.0 98.4 L267.5 98.4 L268.0 98.4 L268.5 98.4 L269.0 98.3 L269.5 98.2 L270.0 98.2 L270.5 98.2 L271.0 98.3 L271.5 98.4 L272.0 98.5 L272.5 98.6 L273.0 98.6 L273.5 98.6 L274.0 98.6 L274.5 98.5 L275.0 98.5 L275.5 98.6 L276.0 98.6 L276.5 98.7 L277.0 98.8 L277.5 98.8 L278.0 98.8 L278.5 98.8 L279.0 98.8 L279.5 98.8 L280.0 98.8 L280.5 98.9 L281.0 98.9 L281.5 99.0 L282.0 99.0 L282.5 99.0 L283.0 99.0 L283.5 99.0 L284.0 99.0 L284.5 99.1 L285.0 99.1 L285.5 99.1 L286.0 99.1 L286.5 99.1 L287.0 99.2 L287.5 99.2 L288.0 99.2 L288.5 99.2 L289.0 99.3 L289.5 99.3 L290.0 99.3 L293.0 99.4 L296.0 99.6 L299.0 99.7 L302.0 99.8 L305.0 99.9 L308.0 100.1 L311.0 100.2 L314.0 100.2 L317.0 100.3 L320.0 100.3 L323.0 100.3 L326.0 100.3 L329.0 100.3 L332.0 100.3 L335.0 100.3 L338.0 100.3 L341.0 100.3 L344.0 100.3 L347.0 100.3 L350.0 100.3 L353.0 100.3 L356.0 100.3 L359.0 100.3 L362.0 100.3 L365.0 100.3 L368.0 100.3 L371.0 100.3 L374.0 100.3 L377.0 100.3 L378.0 100.3" stroke="#0000ff" stroke-dasharray="1.8 1.2" stroke-dashoffset="0.0"/>
<path d="M43.3 76.7 L44.8 76.7 L46.3 76.7 L47.8 76.7 L49.3 76.7 L50.8 76.7 L52.3 76.7 L53.8 76.7 L55.3 76.7 L56.8 76.7 L58.3 76.7 L59.8 76.7 L61.3 76.7 L62.8 76.7 L64.3 76.7 L65.8 76.7 L67.3 76.7 L68.8 76.7 L70.3 76.7 L71.8 76.7 L73.3 76.7 L74.8 76.7 L76.3 76.6 L77.8 76.6 L79.3 76.6 L80.8 76.5 L82.3 76.4 L83.8 76.4 L85.3 76.3 L86.8 76.2 L88.3 76.2 L89.8 76.2 L91.3 76.1 L92.8 76.1 L94.3 76.1 L95.8 76.1 L97.3 76.1 L98.8 76.1 L100.3 76.1 L101.8 76.1 L103.3 76.1 L104.8 76.2 L106.3 76.3 L107.8 76.4 L109.3 76.5 L110.8 76.6 L112.3 76.7 L113.8 76.9 L115.3 77.1 L116.8 77.3 L118.3 77.6 L119.8 77.9 L121.3 78.3 L122.8 78.7 L124.3 79.1 L125.8 79.6 L127.3 80.1 L128.8 80.6 L130.3 81.2 L131.8 81.9 L133.3 82.7 L134.8 83.5 L136.3 84.2 L137.8 85.0 L139.3 85.8 L140.8 86.6 L142.3 87.4 L143.8 88.3 L145.3 89.1 L146.8 90.0 L148.3 90.8 L149.8 91.7 L151.3 92.5 L152.8 93.2 L154.3 93.9 L155.8 94.5 L157.3 95.2 L158.8 95.8 L160.3 96.5 L161.8 97.2 L163.3 98.0 L164.8 98.8 L166.3 99.6 L167.8 100.4 L169.3 101.3 L170.8 102.2 L172.3 103.0 L173.8 103.9 L175.3 104.8 L176.8 105.6 L178.3 106.4 L179.8 107.1 L181.3 107.8 L182.8 108.5 L184.3 109.3 L185.8 110.0 L187.3 110.8 L188.8 111.5 L190.3 112.3 L191.8 113.0 L193.3 113.7 L194.8 114.3 L196.3 115.0 L197.8 115.6 L199.3 116.2 L200.0 116.5 L200.5 116.6 L201.0 116.8 L201.5 117.0 L202.0 117.2 L202.5 117.3 L203.0 117.5 L203.5 117.6 L204.0 117.8 L204.5 117.9 L205.0 118.1 L205.5 118.2 L206.0 118.3 L206.5 118.4 L207.0 118.5 L207.5 118.6 L208.0 118.7 L208.5 118.8 L209.0 118.9 L209.5 119.0 L210.0 119.0 L210.5 119.1 L211.0 119.1 L211.5 119.2 L212.0 119.3 L212.5 119.3 L213.0 119.4 L213.5 119.4 L214.0 119.5 L214.5 119.6 L215.0 119.7 L215.5 119.8 L216.0 119.9 L216.5 120.0 L217.0 120.2 L217.5 120.3 L218.0 120.5 L218.5 120.7 L219.0 120.9 L219.5 121.1 L220.0 121.3 L220.5 121.6 L221.0 121.8 L221.5 122.1 L222.0 122.3 L222.5 122.6 L223.0 122.9 L223.5 123.1 L224.0 123.4 L224.5 123.6 L225.0 123.8 L225.5 124.0 L226.0 124.2 L226.5 124.3 L227.0 124.5 L227.5 124.5 L228.0 124.6 L228.5 124.6 L229.0 124.6 L229.5 124.6 L230.0 124.6 L230.5 124.5 L231.0 124.4 L231.5 124.3 L232.0 124.2 L232.5 124.1 L233.0 124.0 L233.5 123.9 L234.0 123.8 L234.5 123.8 L235.0 123.8 L235.5 123.9 L236.0 124.0 L236.5 124.1 L237.0 124.3 L237.5 124.6 L238.0 124.9 L238.5 125.2 L239.0 125.5 L239.5 125.9 L240.0 126.2 L240.5 126.6 L241.0 126.9 L241.5 127.1 L242.0 127.3 L242.5 127.5 L243.0 127.5 L243.5 127.5 L244.0 127.4 L244.5 127.3 L245.0 127.1 L245.5 126.9 L246.0 126.6 L246.5 126.4 L247.0 126.2 L247.5 126.1 L248.0 126.1 L248.5 126.1 L249.0 126.3 L249.5 126.6 L250.0 126.9 L250.5 127.3 L251.0 127.8 L251.5 128.2 L252.0 128.6 L252.5 128.8 L253.0 129.0 L253.5 129.0 L254.0 128.9 L254.5 128.7 L255.0 128.5 L255.5 128.1 L256.0 127.9 L256.5 127.6 L257.0 127.5 L257.5 127.6 L258.0 127.8 L258.5 128.1 L259.0 128.5 L259.5 128.9 L260.0 129.3 L260.5 129.6 L261.0 129.7 L261.5 129.7 L262.0 129.5 L262.5 129.3 L263.0 129.0 L263.5 128.8 L264.0 128.6 L264.5 128.7 L265.0 128.8 L265.5 129.1 L266.0 129.4 L266.5 129.7 L267.0 129.9 L267.5 130.0 L268.0 130.0 L268.5 129.8 L269.0 129.7 L269.5 129.5 L270.0 129.5 L270.5 129.5 L271.0 129.7 L271.5 129.9 L272.0 130.1 L272.5 130.2 L273.0 130.3 L273.5 130.2 L274.0 130.1 L274.5 130.1 L275.0 130.1 L275.5 130.1 L276.0 130.3 L276.5 130.4 L277.0 130.5 L277.5 130.5 L278.0 130.5 L278.5 130.5 L279.0 130.5 L279.5 130.5 L280.0 130.6 L280.5 130.7 L281.0 130.7 L281.5 130.8 L282.0 130.8 L282.5 130.8 L283.0 130.8 L283.5 130.8 L284.0 130.9 L284.5 131.0 L285.0 131.0 L285.5 131.0 L286.0 131.0 L286.5 131.1 L287.0 131.1 L287.5 131.1 L288.0 131.2 L288.5 131.2 L289.0 131.2 L289.5 131.3 L290.0 131.3 L293.0 131.5 L296.0 131.7 L299.0 131.8 L302.0 132.0 L305.0 132.2 L308.0 132.3 L311.0 132.4 L314.0 132.6 L317.0 132.7 L320.0 132.8 L323.0 132.9 L326.0 133.0 L329.0 133.1 L332.0 133.2 L335.0 133.3 L338.0 133.3 L341.0 133.4 L344.0 133.5 L347.0 133.5 L350.0 133.6 L353.0 133.7 L356.0 133.7 L359.0 133.8 L362.0 133.8 L365.0 133.9 L368.0 133.9 L371.0 134.0 L374.0 134.0 L377.0 134.0 L378.0 134.0" stroke="#0000ff" stroke-dasharray="5.5 3.5" stroke-dashoffset="0.0"/>
<path d="M43.3 76.7 L44.8 76.7 L46.3 76.7 L47.8 76.7 L49.3 76.7 L50.8 76.7 L52.3 76.7 L53.8 76.7 L55.3 76.7 L56.8 76.7 L58.3 76.7 L59.8 76.7 L61.3 76.7 L62.8 76.7 L64.3 76.7 L65.8 76.7 L67.3 76.7 L68.8 76.7 L70.3 76.6 L71.8 76.6 L73.3 76.6 L74.8 76.5 L76.3 76.4 L77.8 76.4 L79.3 76.3 L80.8 76.2 L82.3 76.1 L83.8 76.0 L85.3 75.9 L86.8 75.9 L88.3 75.8 L89.8 75.7 L91.3 75.7 L92.8 75.6 L94.3 75.6 L95.8 75.5 L97.3 75.5 L98.8 75.5 L100.3 75.5 L101.8 75.5 L103.3 75.5 L104.8 75.5 L106.3 75.6 L107.8 75.7 L109.3 75.8 L110.8 76.0 L112.3 76.2 L113.8 76.4 L115.3 76.7 L116.8 76.9 L118.3 77.3 L119.8 77.7 L121.3 78.1 L122.8 78.6 L124.3 79.1 L125.8 79.6 L127.3 80.1 L128.8 80.7 L130.3 81.3 L131.8 82.0 L133.3 82.8 L134.8 83.6 L136.3 84.4 L137.8 85.4 L139.3 86.4 L140.8 87.6 L142.3 88.9 L143.8 90.2 L145.3 91.5 L146.8 92.7 L148.3 93.9 L149.8 95.1 L151.3 96.4 L152.8 97.9 L154.3 99.3 L155.8 100.7 L157.3 102.2 L158.8 103.5 L160.3 104.8 L161.8 106.0 L163.3 107.2 L164.8 108.4 L166.3 109.5 L167.8 110.7 L169.3 111.8 L170.8 113.0 L172.3 114.1 L173.8 115.3 L175.3 116.5 L176.8 117.8 L178.3 119.1 L179.8 120.4 L181.3 121.8 L182.8 123.2 L184.3 124.6 L185.8 126.1 L187.3 127.7 L188.8 129.1 L190.3 130.4 L191.8 131.8 L193.3 133.1 L194.8 134.3 L196.3 135.5 L197.8 136.7 L199.3 137.8 L200.0 138.3 L200.5 138.6 L201.0 138.8 L201.5 139.1 L202.0 139.3 L202.5 139.5 L203.0 139.7 L203.5 139.9 L204.0 140.1 L204.5 140.3 L205.0 140.5 L205.5 140.7 L206.0 140.9 L206.5 141.1 L207.0 141.2 L207.5 141.4 L208.0 141.6 L208.5 141.8 L209.0 141.9 L209.5 142.1 L210.0 142.2 L210.5 142.4 L211.0 142.5 L211.5 142.7 L212.0 142.9 L212.5 143.0 L213.0 143.2 L213.5 143.3 L214.0 143.5 L214.5 143.7 L215.0 143.9 L215.5 144.1 L216.0 144.3 L216.5 144.5 L217.0 144.8 L217.5 145.1 L218.0 145.4 L218.5 145.7 L219.0 146.0 L219.5 146.4 L220.0 146.7 L220.5 147.1 L221.0 147.5 L221.5 147.9 L222.0 148.3 L222.5 148.7 L223.0 149.1 L223.5 149.5 L224.0 149.9 L224.5 150.2 L225.0 150.6 L225.5 150.9 L226.0 151.1 L226.5 151.3 L227.0 151.5 L227.5 151.6 L228.0 151.7 L228.5 151.7 L229.0 151.7 L229.5 151.6 L230.0 151.5 L230.5 151.4 L231.0 151.3 L231.5 151.1 L232.0 150.9 L232.5 150.8 L233.0 150.6 L233.5 150.5 L234.0 150.4 L234.5 150.4 L235.0 150.4 L235.5 150.5 L236.0 150.7 L236.5 151.0 L237.0 151.3 L237.5 151.7 L238.0 152.2 L238.5 152.7 L239.0 153.2 L239.5 153.8 L240.0 154.4 L240.5 154.9 L241.0 155.4 L241.5 155.8 L242.0 156.1 L242.5 156.3 L243.0 156.5 L243.5 156.5 L244.0 156.5 L244.5 156.3 L245.0 156.1 L245.5 155.9 L246.0 155.6 L246.5 155.4 L247.0 155.2 L247.5 155.1 L248.0 155.1 L248.5 155.3 L249.0 155.6 L249.5 156.0 L250.0 156.5 L250.5 157.1 L251.0 157.7 L251.5 158.4 L252.0 158.9 L252.5 159.3 L253.0 159.6 L253.5 159.7 L254.0 159.6 L254.5 159.4 L255.0 159.1 L255.5 158.7 L256.0 158.3 L256.5 158.1 L257.0 158.0 L257.5 158.0 L258.0 158.3 L258.5 158.8 L259.0 159.3 L259.5 159.9 L260.0 160.4 L260.5 160.8 L261.0 161.0 L261.5 161.0 L262.0 160.8 L262.5 160.5 L263.0 160.1 L263.5 159.8 L264.0 159.7 L264.5 159.7 L265.0 159.9 L265.5 160.3 L266.0 160.7 L266.5 161.1 L267.0 161.4 L267.5 161.6 L268.0 161.5 L268.5 161.3 L269.0 161.1 L269.5 160.9 L270.0 160.9 L270.5 161.0 L271.0 161.2 L271.5 161.4 L272.0 161.7 L272.5 161.9 L273.0 161.9 L273.5 161.9 L274.0 161.8 L274.5 161.7 L275.0 161.7 L275.5 161.8 L276.0 161.9 L276.5 162.1 L277.0 162.2 L277.5 162.3 L278.0 162.3 L278.5 162.2 L279.0 162.2 L279.5 162.3 L280.0 162.3 L280.5 162.5 L281.0 162.6 L281.5 162.6 L282.0 162.6 L282.5 162.6 L283.0 162.6 L283.5 162.7 L284.0 162.8 L284.5 162.8 L285.0 162.9 L285.5 162.9 L286.0 162.9 L286.5 163.0 L287.0 163.0 L287.5 163.1 L288.0 163.1 L288.5 163.2 L289.0 163.2 L289.5 163.2 L290.0 163.3 L293.0 163.5 L296.0 163.8 L299.0 164.0 L302.0 164.2 L305.0 164.4 L308.0 164.6 L311.0 164.8 L314.0 165.0 L317.0 165.1 L320.0 165.3 L323.0 165.5 L326.0 165.6 L329.0 165.8 L332.0 166.0 L335.0 166.1 L338.0 166.3 L341.0 166.4 L344.0 166.5 L347.0 166.7 L350.0 166.8 L353.0 166.9 L356.0 167.0 L359.0 167.2 L362.0 167.3 L365.0 167.4 L368.0 167.5 L371.0 167.6 L374.0 167.7 L377.0 167.8 L378.0 167.8" stroke="#0000ff" stroke-dasharray="12.5 4" stroke-dashoffset="0.0"/>
<path d="M43.3 76.7 L44.8 76.7 L46.3 76.7 L47.8 76.7 L49.3 76.7 L50.8 76.7 L52.3 76.7 L53.8 76.7 L55.3 76.7 L56.8 76.7 L58.3 76.7 L59.8 76.7 L61.3 76.7 L62.8 76.7 L64.3 76.7 L65.8 76.6 L67.3 76.6 L68.8 76.6 L70.3 76.5 L71.8 76.5 L73.3 76.4 L74.8 76.4 L76.3 76.3 L77.8 76.2 L79.3 76.1 L80.8 76.0 L82.3 75.9 L83.8 75.7 L85.3 75.6 L86.8 75.5 L88.3 75.4 L89.8 75.3 L91.3 75.2 L92.8 75.1 L94.3 75.0 L95.8 74.9 L97.3 74.8 L98.8 74.8 L100.3 74.7 L101.8 74.7 L103.3 74.7 L104.8 74.7 L106.3 74.8 L107.8 74.8 L109.3 74.9 L110.8 75.0 L112.3 75.2 L113.8 75.5 L115.3 75.8 L116.8 76.2 L118.3 76.6 L119.8 77.1 L121.3 77.7 L122.8 78.2 L124.3 78.8 L125.8 79.4 L127.3 80.0 L128.8 80.7 L130.3 81.3 L131.8 82.0 L133.3 82.8 L134.8 83.6 L136.3 84.4 L137.8 85.4 L139.3 86.4 L140.8 87.6 L142.3 89.0 L143.8 90.5 L145.3 92.0 L146.8 93.5 L148.3 95.0 L149.8 96.6 L151.3 98.2 L152.8 100.0 L154.3 101.8 L155.8 103.6 L157.3 105.5 L158.8 107.4 L160.3 109.2 L161.8 111.1 L163.3 112.9 L164.8 114.7 L166.3 116.4 L167.8 118.1 L169.3 119.8 L170.8 121.6 L172.3 123.5 L173.8 125.5 L175.3 127.6 L176.8 129.7 L178.3 131.7 L179.8 133.7 L181.3 135.6 L182.8 137.6 L184.3 139.5 L185.8 141.5 L187.3 143.6 L188.8 145.6 L190.3 147.6 L191.8 149.6 L193.3 151.6 L194.8 153.4 L196.3 155.1 L197.8 156.6 L199.3 158.1 L200.0 158.7 L200.5 159.2 L201.0 159.6 L201.5 160.0 L202.0 160.4 L202.5 160.8 L203.0 161.2 L203.5 161.5 L204.0 161.9 L204.5 162.2 L205.0 162.5 L205.5 162.8 L206.0 163.1 L206.5 163.4 L207.0 163.6 L207.5 163.9 L208.0 164.1 L208.5 164.4 L209.0 164.6 L209.5 164.8 L210.0 165.0 L210.5 165.2 L211.0 165.4 L211.5 165.7 L212.0 165.9 L212.5 166.1 L213.0 166.3 L213.5 166.5 L214.0 166.8 L214.5 167.0 L215.0 167.3 L215.5 167.6 L216.0 167.9 L216.5 168.2 L217.0 168.5 L217.5 168.9 L218.0 169.3 L218.5 169.7 L219.0 170.1 L219.5 170.6 L220.0 171.1 L220.5 171.6 L221.0 172.1 L221.5 172.6 L222.0 173.1 L222.5 173.7 L223.0 174.2 L223.5 174.7 L224.0 175.2 L224.5 175.7 L225.0 176.1 L225.5 176.6 L226.0 176.9 L226.5 177.3 L227.0 177.5 L227.5 177.8 L228.0 178.0 L228.5 178.1 L229.0 178.2 L229.5 178.2 L230.0 178.2 L230.5 178.1 L231.0 178.0 L231.5 177.9 L232.0 177.8 L232.5 177.7 L233.0 177.6 L233.5 177.5 L234.0 177.5 L234.5 177.5 L235.0 177.6 L235.5 177.7 L236.0 177.9 L236.5 178.2 L237.0 178.6 L237.5 179.0 L238.0 179.5 L238.5 180.1 L239.0 180.7 L239.5 181.3 L240.0 181.9 L240.5 182.5 L241.0 183.0 L241.5 183.5 L242.0 183.9 L242.5 184.2 L243.0 184.3 L243.5 184.4 L244.0 184.3 L244.5 184.1 L245.0 183.9 L245.5 183.6 L246.0 183.3 L246.5 183.0 L247.0 182.8 L247.5 182.7 L248.0 182.7 L248.5 182.9 L249.0 183.3 L249.5 183.9 L250.0 184.6 L250.5 185.4 L251.0 186.2 L251.5 187.0 L252.0 187.7 L252.5 188.3 L253.0 188.6 L253.5 188.8 L254.0 188.7 L254.5 188.5 L255.0 188.1 L255.5 187.7 L256.0 187.3 L256.5 187.0 L257.0 186.9 L257.5 187.0 L258.0 187.4 L258.5 187.9 L259.0 188.7 L259.5 189.4 L260.0 190.1 L260.5 190.6 L261.0 190.9 L261.5 190.9 L262.0 190.6 L262.5 190.3 L263.0 189.8 L263.5 189.4 L264.0 189.3 L264.5 189.3 L265.0 189.6 L265.5 190.1 L266.0 190.6 L266.5 191.1 L267.0 191.5 L267.5 191.7 L268.0 191.6 L268.5 191.4 L269.0 191.2 L269.5 190.9 L270.0 190.9 L270.5 191.0 L271.0 191.3 L271.5 191.6 L272.0 192.0 L272.5 192.2 L273.0 192.3 L273.5 192.2 L274.0 192.1 L274.5 192.0 L275.0 192.0 L275.5 192.1 L276.0 192.3 L276.5 192.5 L277.0 192.7 L277.5 192.8 L278.0 192.8 L278.5 192.8 L279.0 192.7 L279.5 192.8 L280.0 192.9 L280.5 193.1 L281.0 193.2 L281.5 193.3 L282.0 193.3 L282.5 193.3 L283.0 193.3 L283.5 193.4 L284.0 193.5 L284.5 193.6 L285.0 193.7 L285.5 193.7 L286.0 193.8 L286.5 193.8 L287.0 193.9 L287.5 194.0 L288.0 194.1 L288.5 194.1 L289.0 194.2 L289.5 194.2 L290.0 194.3 L293.0 194.7 L296.0 195.0 L299.0 195.4 L302.0 195.7 L305.0 196.0 L308.0 196.3 L311.0 196.6 L314.0 196.9 L317.0 197.1 L320.0 197.3 L323.0 197.5 L326.0 197.7 L329.0 197.8 L332.0 198.0 L335.0 198.1 L338.0 198.3 L341.0 198.4 L344.0 198.5 L347.0 198.7 L350.0 198.8 L353.0 198.9 L356.0 199.0 L359.0 199.2 L362.0 199.3 L365.0 199.4 L368.0 199.5 L371.0 199.6 L374.0 199.7 L377.0 199.8 L378.0 199.8" stroke="#0000ff" stroke-dasharray="1 2 5.8 2" stroke-dashoffset="0.0"/>
<path d="M43.3 76.7 L44.8 76.7 L46.3 76.7 L47.8 76.7 L49.3 76.7 L50.8 76.7 L52.3 76.7 L53.8 76.7 L55.3 76.7 L56.8 76.7 L58.3 76.7 L59.8 76.7 L61.3 76.7 L62.8 76.7 L64.3 76.7 L65.8 76.6 L67.3 76.6 L68.8 76.5 L70.3 76.5 L71.8 76.4 L73.3 76.3 L74.8 76.2 L76.3 76.0 L77.8 75.9 L79.3 75.7 L80.8 75.4 L82.3 75.2 L83.8 75.0 L85.3 74.8 L86.8 74.7 L88.3 74.5 L89.8 74.4 L91.3 74.2 L92.8 74.1 L94.3 73.9 L95.8 73.7 L97.3 73.5 L98.8 73.2 L100.3 72.9 L101.8 72.6 L103.3 72.4 L104.8 72.3 L106.3 72.2 L107.8 72.2 L109.3 72.1 L110.8 72.1 L112.3 72.1 L113.8 72.2 L115.3 72.2 L116.8 72.3 L118.3 72.3 L119.8 72.6 L121.3 73.0 L122.8 73.5 L124.3 74.0 L125.8 74.6 L127.3 75.2 L128.8 75.9 L130.3 76.7 L131.8 77.6 L133.3 78.5 L134.8 79.5 L136.3 80.6 L137.8 81.8 L139.3 83.2 L140.8 84.7 L142.3 86.5 L143.8 88.6 L145.3 90.7 L146.8 92.7 L148.3 94.5 L149.8 96.5 L151.3 99.0 L152.8 101.9 L154.3 105.2 L155.8 108.8 L157.3 112.5 L158.8 116.4 L160.3 120.3 L161.8 124.2 L163.3 128.0 L164.8 131.6 L166.3 135.2 L167.8 138.8 L169.3 142.5 L170.8 146.1 L172.3 149.8 L173.8 153.5 L175.3 157.3 L176.8 161.1 L178.3 164.9 L179.8 168.7 L181.3 172.6 L182.8 176.4 L184.3 180.2 L185.8 184.0 L187.3 187.8 L188.8 191.5 L190.3 195.2 L191.8 198.8 L193.3 202.4 L194.8 205.9 L196.3 209.4 L197.8 212.9 L199.3 216.3 L200.0 217.8 L200.5 218.9 L201.0 220.0 L201.5 221.0 L202.0 222.0 L202.5 223.0 L203.0 224.0 L203.5 225.0 L204.0 225.9 L204.5 226.9 L205.0 227.8 L205.5 228.6 L206.0 229.5 L206.5 230.3 L207.0 231.1 L207.5 231.9 L208.0 232.7 L208.5 233.5 L209.0 234.2 L209.5 234.9 L210.0 235.7 L210.5 236.4 L211.0 237.1 L211.5 237.8 L212.0 238.5 L212.5 239.2 L213.0 239.9 L213.5 240.6 L214.0 241.3 L214.5 242.1 L215.0 242.8 L215.5 243.7 L216.0 244.5 L216.5 245.4 L217.0 246.3 L217.5 247.3 L218.0 248.3 L218.5 249.4 L219.0 250.6 L219.5 251.8 L220.0 253.0 L220.5 254.3 L221.0 255.6 L221.5 257.0 L222.0 258.3 L222.5 259.6 L223.0 260.9 L223.5 262.2 L224.0 263.4 L224.5 264.6 L225.0 265.6 L225.5 266.6 L226.0 267.4 L226.5 268.2 L227.0 268.8 L227.5 269.3 L228.0 269.8 L228.5 270.1 L229.0 270.3 L229.5 270.5 L230.0 270.6 L230.5 270.6 L231.0 270.6 L231.5 270.5 L232.0 270.5 L232.5 270.4 L233.0 270.4 L233.5 270.4 L234.0 270.5 L234.5 270.7 L235.0 270.9 L235.5 271.3 L236.0 271.8 L236.5 272.5 L237.0 273.2 L237.5 274.0 L238.0 275.0 L238.5 276.0 L239.0 277.0 L239.5 278.1 L240.0 279.1 L240.5 280.1 L241.0 281.0 L241.5 281.7 L242.0 282.4 L242.5 282.9 L243.0 283.2 L243.5 283.4 L244.0 283.4 L244.5 283.3 L245.0 283.1 L245.5 282.9 L246.0 282.6 L246.5 282.5 L247.0 282.4 L247.5 282.4 L248.0 282.6 L248.5 283.0 L249.0 283.6 L249.5 284.3 L250.0 285.2 L250.5 286.1 L251.0 287.1 L251.5 288.0 L252.0 288.8 L252.5 289.5 L253.0 290.0 L253.5 290.2 L254.0 290.3 L254.5 290.2 L255.0 290.0 L255.5 289.8 L256.0 289.6 L256.5 289.6 L257.0 289.7 L257.5 290.0 L258.0 290.5 L258.5 291.2 L259.0 292.0 L259.5 292.8 L260.0 293.6 L260.5 294.2 L261.0 294.6 L261.5 294.9 L262.0 294.9 L262.5 294.8 L263.0 294.6 L263.5 294.5 L264.0 294.5 L264.5 294.7 L265.0 295.1 L265.5 295.6 L266.0 296.2 L266.5 296.8 L267.0 297.3 L267.5 297.5 L268.0 297.6 L268.5 297.5 L269.0 297.4 L269.5 297.3 L270.0 297.3 L270.5 297.5 L271.0 297.8 L271.5 298.3 L272.0 298.7 L272.5 299.1 L273.0 299.3 L273.5 299.3 L274.0 299.2 L274.5 299.1 L275.0 299.1 L275.5 299.3 L276.0 299.6 L276.5 300.0 L277.0 300.3 L277.5 300.5 L278.0 300.5 L278.5 300.4 L279.0 300.3 L279.5 300.4 L280.0 300.6 L280.5 301.0 L281.0 301.2 L281.5 301.4 L282.0 301.4 L282.5 301.3 L283.0 301.3 L283.5 301.5 L284.0 301.7 L284.5 301.9 L285.0 302.1 L285.5 302.1 L286.0 302.1 L286.5 302.1 L287.0 302.3 L287.5 302.5 L288.0 302.7 L288.5 302.7 L289.0 302.7 L289.5 302.7 L290.0 302.8 L293.0 303.4 L296.0 304.0 L299.0 304.5 L302.0 304.9 L305.0 305.5 L308.0 306.0 L311.0 306.5 L314.0 307.0 L317.0 307.5 L320.0 308.0 L323.0 308.4 L326.0 308.9 L329.0 309.3 L332.0 309.8 L335.0 310.2 L338.0 310.6 L341.0 310.9 L344.0 311.3 L347.0 311.6 L350.0 312.0 L353.0 312.3 L356.0 312.6 L359.0 312.9 L362.0 313.2 L365.0 313.5 L368.0 313.8 L371.0 314.0 L374.0 314.3 L377.0 314.5 L378.0 314.6" stroke="#0000ff" stroke-dasharray="10 1.5 0.8 1.5" stroke-dashoffset="0.0"/>
</g>
<line x1="43.3" x2="378.0" y1="77.5" y2="77.5" stroke="#000" stroke-width="0.42"/>
<path d="M43.0 21.3 H378.4" fill="none" stroke="#000" stroke-width="0.5"/>
<path d="M43.3 21.3 V356.2" fill="none" stroke="#000" stroke-width="0.55"/>
<path d="M378.0 21.3 V356.2" fill="none" stroke="#000" stroke-width="0.9"/>
<path d="M43.0 356.2 H378.4" fill="none" stroke="#000" stroke-width="0.8"/>
<path d="M50.89 356.2 v-4.5 M50.89 21.3 v4.5 M58.10 356.2 v-4.5 M58.10 21.3 v4.5 M63.99 356.2 v-4.5 M63.99 21.3 v4.5 M68.97 356.2 v-4.5 M68.97 21.3 v4.5 M73.28 356.2 v-4.5 M73.28 21.3 v4.5 M77.09 356.2 v-4.5 M77.09 21.3 v4.5 M80.49 356.2 v-8.5 M80.49 21.3 v8.5 M102.88 356.2 v-4.5 M102.88 21.3 v4.5 M115.98 356.2 v-4.5 M115.98 21.3 v4.5 M125.27 356.2 v-4.5 M125.27 21.3 v4.5 M132.48 356.2 v-4.5 M132.48 21.3 v4.5 M138.37 356.2 v-4.5 M138.37 21.3 v4.5 M143.35 356.2 v-4.5 M143.35 21.3 v4.5 M147.66 356.2 v-4.5 M147.66 21.3 v4.5 M151.46 356.2 v-4.5 M151.46 21.3 v4.5 M154.87 356.2 v-8.5 M154.87 21.3 v8.5 M177.26 356.2 v-4.5 M177.26 21.3 v4.5 M190.35 356.2 v-4.5 M190.35 21.3 v4.5 M199.65 356.2 v-4.5 M199.65 21.3 v4.5 M206.85 356.2 v-4.5 M206.85 21.3 v4.5 M212.74 356.2 v-4.5 M212.74 21.3 v4.5 M217.72 356.2 v-4.5 M217.72 21.3 v4.5 M222.04 356.2 v-4.5 M222.04 21.3 v4.5 M225.84 356.2 v-4.5 M225.84 21.3 v4.5 M229.24 356.2 v-8.5 M229.24 21.3 v8.5 M251.63 356.2 v-4.5 M251.63 21.3 v4.5 M264.73 356.2 v-4.5 M264.73 21.3 v4.5 M274.02 356.2 v-4.5 M274.02 21.3 v4.5 M281.23 356.2 v-4.5 M281.23 21.3 v4.5 M287.12 356.2 v-4.5 M287.12 21.3 v4.5 M292.10 356.2 v-4.5 M292.10 21.3 v4.5 M296.41 356.2 v-4.5 M296.41 21.3 v4.5 M300.22 356.2 v-4.5 M300.22 21.3 v4.5 M303.62 356.2 v-8.5 M303.62 21.3 v8.5 M326.01 356.2 v-4.5 M326.01 21.3 v4.5 M339.11 356.2 v-4.5 M339.11 21.3 v4.5 M348.40 356.2 v-4.5 M348.40 21.3 v4.5 M355.61 356.2 v-4.5 M355.61 21.3 v4.5 M361.50 356.2 v-4.5 M361.50 21.3 v4.5 M366.48 356.2 v-4.5 M366.48 21.3 v4.5 M370.79 356.2 v-4.5 M370.79 21.3 v4.5 M374.60 356.2 v-4.5 M374.60 21.3 v4.5 M378.00 356.2 v-8.5 M378.00 21.3 v8.5 M43.3 356.20 h4.5 M378.0 356.20 h-4.5 M43.3 328.29 h4.5 M378.0 328.29 h-4.5 M43.3 300.39 h8.5 M378.0 300.39 h-8.5 M43.3 272.49 h4.5 M378.0 272.49 h-4.5 M43.3 244.58 h4.5 M378.0 244.58 h-4.5 M43.3 216.67 h4.5 M378.0 216.67 h-4.5 M43.3 188.77 h8.5 M378.0 188.77 h-8.5 M43.3 160.87 h4.5 M378.0 160.87 h-4.5 M43.3 132.96 h4.5 M378.0 132.96 h-4.5 M43.3 105.06 h4.5 M378.0 105.06 h-4.5 M43.3 77.15 h8.5 M378.0 77.15 h-8.5 M43.3 49.25 h4.5 M378.0 49.25 h-4.5 M43.3 21.34 h4.5 M378.0 21.34 h-4.5" fill="none" stroke="#000" stroke-width="0.65"/>
<line x1="62" x2="92" y1="250.3" y2="250.3" stroke="#000" stroke-width="0.55" stroke-dasharray="1 2"/>
<line x1="62" x2="92" y1="267.1" y2="267.1" stroke="#000" stroke-width="0.55" stroke-dasharray="5.2 2.5"/>
<line x1="62" x2="92" y1="283.9" y2="283.9" stroke="#000" stroke-width="0.55" stroke-dasharray="13.5 3.7"/>
<line x1="62" x2="92" y1="300.5" y2="300.5" stroke="#000" stroke-width="0.55" stroke-dasharray="1 2 5.9 1.6"/>
<line x1="62" x2="92" y1="317.3" y2="317.3" stroke="#000" stroke-width="0.55" stroke-dasharray="10 1.3 0.8 1.4"/>
</svg>
<div class="t xt" style="left:80.5px">0.001</div>
<div class="t xt" style="left:154.9px">0.01</div>
<div class="t xt" style="left:229.2px">0.1</div>
<div class="t xt" style="left:303.6px">1</div>
<div class="t xt" style="left:378.8px">10</div>
<div class="t yt" style="top:77.2px">0</div>
<div class="t yt" style="top:188.8px">−0.2</div>
<div class="t yt" style="top:300.4px">−0.4</div>
<div class="t" style="left:172.2px;top:378px;font-size:14px;letter-spacing:1.05px;word-spacing:2.2px">k [h Mpc<span style="font-size:9px;position:relative;top:-4px;letter-spacing:0">−1</span>]</div>
<div class="t yl" style="left:9px;top:184.8px;font-size:14px;letter-spacing:1.75px;transform:translate(-50%,-50%) rotate(-90deg)">(P<sub>k,M<span style="font-size:6px;position:relative;top:2px">ν</span></sub>−P<sub>k,M<span style="font-size:6px;position:relative;top:2px">ν</span>=0</sub>)/P<sub>k,M<span style="font-size:6px;position:relative;top:2px">ν</span>=0</sub></div>
<div class="t kk" style="left:62.5px;top:38.5px;font-size:15px;letter-spacing:1px">k&lt;k<sub>nr,M<span style="font-size:6px;position:relative;top:2px">ν</span>=0.8eV</sub></div>
<div class="t" style="left:248.8px;top:39.4px;font-size:14px;letter-spacing:0.15px;word-spacing:0.5px;color:#3a3a3a">BOSS Lyα</div>
<div class="t z" style="top:144.7px;color:#ff4800;letter-spacing:0.55px">z=0 (red)</div>
<div class="t z" style="top:162.0px;color:#66ff11;letter-spacing:0.50px">z=2 (green)</div>
<div class="t z" style="top:178.2px;color:#3838a0;letter-spacing:0.35px">z=4 (blue)</div>
<div class="t leg" style="top:240.1px">M<sub>ν</sub>=0.1<span style="margin-left:6.5px">eV</span></div>
<div class="t leg" style="top:256.9px">M<sub>ν</sub>=0.2<span style="margin-left:6.5px">eV</span></div>
<div class="t leg" style="top:273.7px">M<sub>ν</sub>=0.3<span style="margin-left:6.5px">eV</span></div>
<div class="t leg" style="top:290.4px">M<sub>ν</sub>=0.4<span style="margin-left:6.5px">eV</span></div>
<div class="t leg" style="top:307.1px">M<sub>ν</sub>=0.8<span style="margin-left:6.5px">eV</span></div>
</body></html>
